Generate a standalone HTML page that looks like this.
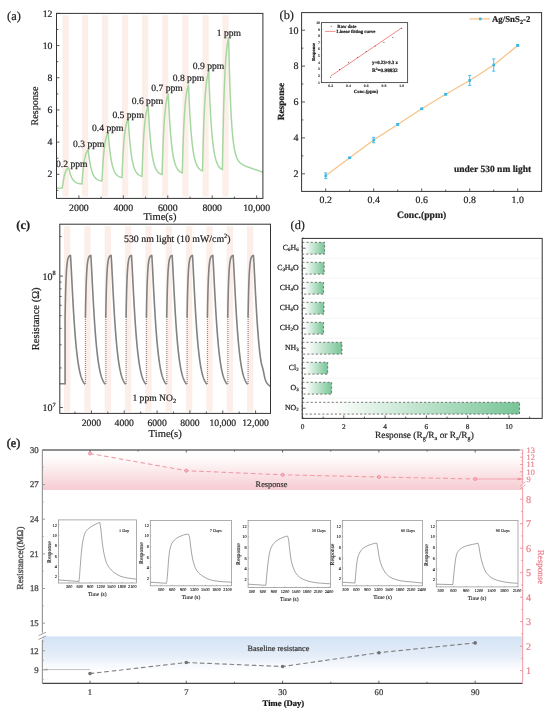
<!DOCTYPE html>
<html><head><meta charset="utf-8"><style>
html,body{margin:0;padding:0;background:#fff;}
svg{display:block;will-change:transform;}
text{font-family:"Liberation Serif",serif;text-rendering:geometricPrecision;}
</style></head><body>
<svg width="550" height="716" viewBox="0 0 550 716">
<rect width="550" height="716" fill="#fff"/>
<defs><linearGradient id="gbar" x1="0" y1="0" x2="1" y2="0"><stop offset="0" stop-color="#ffffff"/><stop offset="0.15" stop-color="#fbfdfb"/><stop offset="1" stop-color="#78c597"/></linearGradient><linearGradient id="gpink" x1="0" y1="0" x2="0" y2="1"><stop offset="0" stop-color="#f4b8bf" stop-opacity="0"/><stop offset="0.25" stop-color="#f4b8bf" stop-opacity="0.08"/><stop offset="1" stop-color="#f2b2ba" stop-opacity="0.68"/></linearGradient><linearGradient id="gblue" x1="0" y1="0" x2="0" y2="1"><stop offset="0" stop-color="#d3e3f5"/><stop offset="0.6" stop-color="#e6eef9"/><stop offset="1" stop-color="#f4f7fc" stop-opacity="0.3"/></linearGradient></defs>
<rect x="62.5" y="15.2" width="6.2" height="181.3" fill="#fcefe9"/>
<rect x="82" y="15.2" width="6.2" height="181.3" fill="#fcefe9"/>
<rect x="102" y="15.2" width="6.2" height="181.3" fill="#fcefe9"/>
<rect x="122" y="15.2" width="6.2" height="181.3" fill="#fcefe9"/>
<rect x="142" y="15.2" width="6.2" height="181.3" fill="#fcefe9"/>
<rect x="162.1" y="15.2" width="6.2" height="181.3" fill="#fcefe9"/>
<rect x="182.3" y="15.2" width="6.2" height="181.3" fill="#fcefe9"/>
<rect x="202.5" y="15.2" width="6.2" height="181.3" fill="#fcefe9"/>
<rect x="222.4" y="15.2" width="6.2" height="181.3" fill="#fcefe9"/>
<path d="M57,188.3 L62.3,188 L63.02,183.46 L63.53,179.87 L64.05,177.03 L64.57,174.78 L65.08,173.01 L65.6,171.61 L66.12,170.5 L66.63,169.62 L67.15,168.93 L67.67,168.38 L68.18,167.94 L68.7,167.6 L69.17,169.84 L69.65,171.78 L70.12,173.46 L70.6,174.91 L71.08,176.17 L71.55,177.26 L72.03,178.2 L72.5,179.02 L72.98,179.73 L73.45,180.34 L73.92,180.87 L74.4,181.33 L74.88,181.73 L75.35,182.07 L75.83,182.37 L76.3,182.63 L76.78,182.85 L77.25,183.05 L77.72,183.21 L78.2,183.36 L78.67,183.48 L79.15,183.59 L79.62,183.69 L80.1,183.77 L80.58,183.84 L81.05,183.9 L81.53,183.95 L82,184 L82.52,176.43 L83.03,170.45 L83.55,165.72 L84.07,161.97 L84.58,159.02 L85.1,156.68 L85.62,154.83 L86.13,153.37 L86.65,152.21 L87.17,151.29 L87.68,150.57 L88.2,150 L88.69,154.37 L89.19,158.13 L89.68,161.37 L90.17,164.16 L90.66,166.56 L91.16,168.63 L91.65,170.41 L92.14,171.95 L92.64,173.27 L93.13,174.41 L93.62,175.39 L94.11,176.24 L94.61,176.96 L95.1,177.59 L95.59,178.13 L96.09,178.6 L96.58,179 L97.07,179.34 L97.56,179.64 L98.06,179.89 L98.55,180.11 L99.04,180.3 L99.54,180.47 L100.03,180.61 L100.52,180.73 L101.01,180.83 L101.51,180.92 L102,181 L102.52,170.32 L103.03,161.87 L103.55,155.19 L104.07,149.9 L104.58,145.73 L105.1,142.43 L105.62,139.82 L106.13,137.75 L106.65,136.12 L107.17,134.83 L107.68,133.81 L108.2,133 L108.69,139.28 L109.19,144.7 L109.68,149.36 L110.17,153.37 L110.66,156.83 L111.16,159.81 L111.65,162.37 L112.14,164.58 L112.64,166.48 L113.13,168.12 L113.62,169.53 L114.11,170.75 L114.61,171.79 L115.1,172.69 L115.59,173.47 L116.09,174.14 L116.58,174.72 L117.07,175.21 L117.56,175.64 L118.06,176.01 L118.55,176.32 L119.04,176.6 L119.54,176.83 L120.03,177.03 L120.52,177.21 L121.01,177.36 L121.51,177.49 L122,177.6 L122.52,164.56 L123.03,154.24 L123.55,146.09 L124.07,139.64 L124.58,134.54 L125.1,130.51 L125.62,127.32 L126.13,124.8 L126.65,122.81 L127.17,121.23 L127.68,119.99 L128.2,119 L128.69,127.09 L129.19,134.05 L129.68,140.05 L130.17,145.22 L130.66,149.67 L131.16,153.5 L131.65,156.8 L132.14,159.64 L132.64,162.09 L133.13,164.2 L133.62,166.02 L134.11,167.58 L134.61,168.93 L135.1,170.09 L135.59,171.09 L136.09,171.95 L136.58,172.69 L137.07,173.33 L137.56,173.88 L138.06,174.35 L138.55,174.76 L139.04,175.11 L139.54,175.41 L140.03,175.67 L140.52,175.9 L141.01,176.09 L141.51,176.26 L142,176.4 L142.52,160.84 L143.03,148.54 L143.55,138.81 L144.07,131.12 L144.58,125.04 L145.1,120.23 L145.62,116.42 L146.13,113.42 L146.65,111.04 L147.17,109.16 L147.68,107.68 L148.2,106.5 L148.7,116.15 L149.19,124.46 L149.69,131.61 L150.19,137.75 L150.68,143.04 L151.18,147.59 L151.67,151.51 L152.17,154.88 L152.67,157.77 L153.16,160.27 L153.66,162.41 L154.16,164.26 L154.65,165.84 L155.15,167.21 L155.65,168.39 L156.14,169.4 L156.64,170.27 L157.14,171.01 L157.63,171.66 L158.13,172.21 L158.62,172.69 L159.12,173.1 L159.62,173.45 L160.11,173.75 L160.61,174.02 L161.11,174.24 L161.6,174.43 L162.1,174.6 L162.62,156.7 L163.13,142.55 L163.65,131.36 L164.17,122.52 L164.68,115.52 L165.2,109.99 L165.72,105.62 L166.23,102.16 L166.75,99.42 L167.27,97.26 L167.78,95.55 L168.3,94.2 L168.8,105.43 L169.3,115.07 L169.8,123.37 L170.3,130.49 L170.8,136.61 L171.3,141.88 L171.8,146.4 L172.3,150.29 L172.8,153.63 L173.3,156.5 L173.8,158.97 L174.3,161.09 L174.8,162.91 L175.3,164.47 L175.8,165.82 L176.3,166.98 L176.8,167.97 L177.3,168.83 L177.8,169.56 L178.3,170.19 L178.8,170.73 L179.3,171.2 L179.8,171.6 L180.3,171.94 L180.8,172.24 L181.3,172.49 L181.8,172.71 L182.3,172.9 L182.82,153.31 L183.33,137.82 L183.85,125.58 L184.37,115.89 L184.88,108.24 L185.4,102.18 L185.92,97.39 L186.43,93.61 L186.95,90.62 L187.47,88.25 L187.98,86.38 L188.5,84.9 L189,97.17 L189.5,107.71 L190,116.77 L190.5,124.56 L191,131.25 L191.5,137 L192,141.94 L192.5,146.19 L193,149.84 L193.5,152.98 L194,155.67 L194.5,157.99 L195,159.98 L195.5,161.69 L196,163.16 L196.5,164.43 L197,165.51 L197.5,166.45 L198,167.25 L198.5,167.94 L199,168.53 L199.5,169.04 L200,169.48 L200.5,169.86 L201,170.18 L201.5,170.46 L202,170.69 L202.5,170.9 L203.02,148.77 L203.53,131.28 L204.05,117.44 L204.57,106.51 L205.08,97.86 L205.6,91.02 L206.12,85.61 L206.63,81.34 L207.15,77.96 L207.67,75.28 L208.18,73.17 L208.7,71.5 L209.19,85.23 L209.68,97.08 L210.17,107.29 L210.66,116.09 L211.15,123.68 L211.64,130.22 L212.12,135.87 L212.61,140.73 L213.1,144.92 L213.59,148.54 L214.08,151.66 L214.57,154.35 L215.06,156.67 L215.55,158.66 L216.04,160.39 L216.53,161.87 L217.02,163.15 L217.51,164.26 L218,165.21 L218.49,166.03 L218.97,166.74 L219.46,167.35 L219.95,167.88 L220.44,168.33 L220.93,168.72 L221.42,169.06 L221.91,169.35 L222.4,169.6 L222.92,140.33 L223.43,117.18 L223.95,98.88 L224.47,84.41 L224.98,72.97 L225.5,63.92 L226.02,56.77 L226.53,51.11 L227.05,46.64 L227.57,43.11 L228.08,40.31 L228.6,38.1 L229.44,72.15 L230.28,96.85 L231.13,114.79 L231.97,127.85 L232.81,137.38 L233.66,144.35 L234.5,149.49 L235.34,153.29 L236.18,156.12 L237.03,158.26 L237.87,159.9 L238.71,161.17 L239.55,162.18 L240.4,162.99 L241.24,163.67 L242.08,164.25 L242.92,164.75 L243.77,165.19 L244.61,165.6 L245.45,165.98 L246.29,166.34 L247.13,166.68 L247.98,167 L248.82,167.32 L249.66,167.63 L250.5,167.94 L251.35,168.24 L252.19,168.53 L253.03,168.83 L253.88,169.12 L254.72,169.41 L255.56,169.7 L256.4,169.98 L257.25,170.27 L258.09,170.55 L258.93,170.84 L259.77,171.12 L260.62,171.4 L261.46,171.68 L262.3,171.96" fill="none" stroke="#a6d7a0" stroke-width="1.5" stroke-linejoin="round" stroke-linecap="round" />
<rect x="56.5" y="13.4" width="206.4" height="185" fill="none" stroke="#333" stroke-width="1"/>
<line x1="56.5" y1="190.39" x2="58.3" y2="190.39" stroke="#333" stroke-width="0.8" />
<line x1="56.5" y1="174.3" x2="59.5" y2="174.3" stroke="#333" stroke-width="0.8" />
<text x="52.5" y="177.4" font-size="9.8" text-anchor="end" font-weight="normal" fill="#222" stroke="#222" stroke-width="0.2" >2</text>
<line x1="56.5" y1="158.21" x2="58.3" y2="158.21" stroke="#333" stroke-width="0.8" />
<line x1="56.5" y1="142.12" x2="59.5" y2="142.12" stroke="#333" stroke-width="0.8" />
<text x="52.5" y="145.22" font-size="9.8" text-anchor="end" font-weight="normal" fill="#222" stroke="#222" stroke-width="0.2" >4</text>
<line x1="56.5" y1="126.03" x2="58.3" y2="126.03" stroke="#333" stroke-width="0.8" />
<line x1="56.5" y1="109.94" x2="59.5" y2="109.94" stroke="#333" stroke-width="0.8" />
<text x="52.5" y="113.04" font-size="9.8" text-anchor="end" font-weight="normal" fill="#222" stroke="#222" stroke-width="0.2" >6</text>
<line x1="56.5" y1="93.85" x2="58.3" y2="93.85" stroke="#333" stroke-width="0.8" />
<line x1="56.5" y1="77.76" x2="59.5" y2="77.76" stroke="#333" stroke-width="0.8" />
<text x="52.5" y="80.86" font-size="9.8" text-anchor="end" font-weight="normal" fill="#222" stroke="#222" stroke-width="0.2" >8</text>
<line x1="56.5" y1="61.67" x2="58.3" y2="61.67" stroke="#333" stroke-width="0.8" />
<line x1="56.5" y1="45.58" x2="59.5" y2="45.58" stroke="#333" stroke-width="0.8" />
<text x="52.5" y="48.68" font-size="9.8" text-anchor="end" font-weight="normal" fill="#222" stroke="#222" stroke-width="0.2" >10</text>
<line x1="56.5" y1="29.49" x2="58.3" y2="29.49" stroke="#333" stroke-width="0.8" />
<line x1="56.5" y1="13.4" x2="59.5" y2="13.4" stroke="#333" stroke-width="0.8" />
<text x="52.5" y="16.5" font-size="9.8" text-anchor="end" font-weight="normal" fill="#222" stroke="#222" stroke-width="0.2" >12</text>
<line x1="78.9" y1="198.4" x2="78.9" y2="195.4" stroke="#333" stroke-width="0.8" />
<text x="78.9" y="210.8" font-size="9.8" text-anchor="middle" font-weight="normal" fill="#222" stroke="#222" stroke-width="0.2" >2000</text>
<line x1="101.12" y1="198.4" x2="101.12" y2="196.6" stroke="#333" stroke-width="0.8" />
<line x1="123.34" y1="198.4" x2="123.34" y2="195.4" stroke="#333" stroke-width="0.8" />
<text x="123.34" y="210.8" font-size="9.8" text-anchor="middle" font-weight="normal" fill="#222" stroke="#222" stroke-width="0.2" >4000</text>
<line x1="145.56" y1="198.4" x2="145.56" y2="196.6" stroke="#333" stroke-width="0.8" />
<line x1="167.78" y1="198.4" x2="167.78" y2="195.4" stroke="#333" stroke-width="0.8" />
<text x="167.78" y="210.8" font-size="9.8" text-anchor="middle" font-weight="normal" fill="#222" stroke="#222" stroke-width="0.2" >6000</text>
<line x1="190" y1="198.4" x2="190" y2="196.6" stroke="#333" stroke-width="0.8" />
<line x1="212.22" y1="198.4" x2="212.22" y2="195.4" stroke="#333" stroke-width="0.8" />
<text x="212.22" y="210.8" font-size="9.8" text-anchor="middle" font-weight="normal" fill="#222" stroke="#222" stroke-width="0.2" >8000</text>
<line x1="234.44" y1="198.4" x2="234.44" y2="196.6" stroke="#333" stroke-width="0.8" />
<line x1="256.66" y1="198.4" x2="256.66" y2="195.4" stroke="#333" stroke-width="0.8" />
<text x="256.66" y="210.8" font-size="9.8" text-anchor="middle" font-weight="normal" fill="#222" stroke="#222" stroke-width="0.2" >10,000</text>
<text x="160" y="219.8" font-size="10.5" text-anchor="middle" font-weight="normal" fill="#222" stroke="#222" stroke-width="0.2" >Time(s)</text>
<text x="0" y="0" font-size="10.2" text-anchor="middle" font-weight="normal" fill="#222" stroke="#222" stroke-width="0.2" transform="translate(38.3,106) rotate(-90)">Response</text>
<text x="7" y="19.8" font-size="12.4" text-anchor="start" font-weight="normal" fill="#222" stroke="#222" stroke-width="0.2" >(a)</text>
<text x="56" y="167" font-size="9.6" text-anchor="start" font-weight="normal" fill="#222" stroke="#222" stroke-width="0.2" >0.2 ppm</text>
<text x="73" y="147" font-size="9.6" text-anchor="start" font-weight="normal" fill="#222" stroke="#222" stroke-width="0.2" >0.3 ppm</text>
<text x="92" y="130.6" font-size="9.6" text-anchor="start" font-weight="normal" fill="#222" stroke="#222" stroke-width="0.2" >0.4 ppm</text>
<text x="112.4" y="117.6" font-size="9.6" text-anchor="start" font-weight="normal" fill="#222" stroke="#222" stroke-width="0.2" >0.5 ppm</text>
<text x="131.7" y="103.8" font-size="9.6" text-anchor="start" font-weight="normal" fill="#222" stroke="#222" stroke-width="0.2" >0.6 ppm</text>
<text x="151.3" y="91.3" font-size="9.6" text-anchor="start" font-weight="normal" fill="#222" stroke="#222" stroke-width="0.2" >0.7 ppm</text>
<text x="172.7" y="81.2" font-size="9.6" text-anchor="start" font-weight="normal" fill="#222" stroke="#222" stroke-width="0.2" >0.8 ppm</text>
<text x="192.8" y="68.7" font-size="9.6" text-anchor="start" font-weight="normal" fill="#222" stroke="#222" stroke-width="0.2" >0.9 ppm</text>
<text x="216.7" y="36" font-size="9.6" text-anchor="start" font-weight="normal" fill="#222" stroke="#222" stroke-width="0.2" >1 ppm</text>
<rect x="301.6" y="12.6" width="240" height="178.8" fill="none" stroke="#333" stroke-width="1"/>
<line x1="301.6" y1="173.8" x2="305" y2="173.8" stroke="#333" stroke-width="0.8" />
<text x="298.6" y="177.15" font-size="10" text-anchor="end" font-weight="normal" fill="#222" stroke="#222" stroke-width="0.2" >2</text>
<line x1="301.6" y1="155.85" x2="303.4" y2="155.85" stroke="#333" stroke-width="0.8" />
<line x1="301.6" y1="137.9" x2="305" y2="137.9" stroke="#333" stroke-width="0.8" />
<text x="298.6" y="141.25" font-size="10" text-anchor="end" font-weight="normal" fill="#222" stroke="#222" stroke-width="0.2" >4</text>
<line x1="301.6" y1="119.95" x2="303.4" y2="119.95" stroke="#333" stroke-width="0.8" />
<line x1="301.6" y1="102" x2="305" y2="102" stroke="#333" stroke-width="0.8" />
<text x="298.6" y="105.35" font-size="10" text-anchor="end" font-weight="normal" fill="#222" stroke="#222" stroke-width="0.2" >6</text>
<line x1="301.6" y1="84.05" x2="303.4" y2="84.05" stroke="#333" stroke-width="0.8" />
<line x1="301.6" y1="66.1" x2="305" y2="66.1" stroke="#333" stroke-width="0.8" />
<text x="298.6" y="69.45" font-size="10" text-anchor="end" font-weight="normal" fill="#222" stroke="#222" stroke-width="0.2" >8</text>
<line x1="301.6" y1="48.15" x2="303.4" y2="48.15" stroke="#333" stroke-width="0.8" />
<line x1="301.6" y1="30.2" x2="305" y2="30.2" stroke="#333" stroke-width="0.8" />
<text x="298.6" y="33.55" font-size="10" text-anchor="end" font-weight="normal" fill="#222" stroke="#222" stroke-width="0.2" >10</text>
<line x1="325.7" y1="191.4" x2="325.7" y2="188.4" stroke="#333" stroke-width="0.8" />
<text x="325.7" y="202.8" font-size="9.8" text-anchor="middle" font-weight="normal" fill="#222" stroke="#222" stroke-width="0.2" >0.2</text>
<line x1="349.7" y1="191.4" x2="349.7" y2="189.6" stroke="#333" stroke-width="0.8" />
<line x1="373.7" y1="191.4" x2="373.7" y2="188.4" stroke="#333" stroke-width="0.8" />
<text x="373.7" y="202.8" font-size="9.8" text-anchor="middle" font-weight="normal" fill="#222" stroke="#222" stroke-width="0.2" >0.4</text>
<line x1="397.7" y1="191.4" x2="397.7" y2="189.6" stroke="#333" stroke-width="0.8" />
<line x1="421.7" y1="191.4" x2="421.7" y2="188.4" stroke="#333" stroke-width="0.8" />
<text x="421.7" y="202.8" font-size="9.8" text-anchor="middle" font-weight="normal" fill="#222" stroke="#222" stroke-width="0.2" >0.6</text>
<line x1="445.7" y1="191.4" x2="445.7" y2="189.6" stroke="#333" stroke-width="0.8" />
<line x1="469.7" y1="191.4" x2="469.7" y2="188.4" stroke="#333" stroke-width="0.8" />
<text x="469.7" y="202.8" font-size="9.8" text-anchor="middle" font-weight="normal" fill="#222" stroke="#222" stroke-width="0.2" >0.8</text>
<line x1="493.7" y1="191.4" x2="493.7" y2="189.6" stroke="#333" stroke-width="0.8" />
<line x1="517.7" y1="191.4" x2="517.7" y2="188.4" stroke="#333" stroke-width="0.8" />
<text x="517.7" y="202.8" font-size="9.8" text-anchor="middle" font-weight="normal" fill="#222" stroke="#222" stroke-width="0.2" >1.0</text>
<text x="421.6" y="218.2" font-size="9.7" text-anchor="middle" font-weight="bold" fill="#222" stroke="#222" stroke-width="0.2" >Conc.(ppm)</text>
<text x="0" y="0" font-size="9.4" text-anchor="middle" font-weight="bold" fill="#222" stroke="#222" stroke-width="0.2" transform="translate(283.9,101.6) rotate(-90)">Response</text>
<text x="279.5" y="18.9" font-size="12.4" text-anchor="start" font-weight="normal" fill="#222" stroke="#222" stroke-width="0.2" >(b)</text>
<text x="454" y="172.2" font-size="9.5" text-anchor="start" font-weight="bold" fill="#222" stroke="#222" stroke-width="0.2" >under 530 nm light</text>
<path d="M325.7,175.77 L349.7,157.82 L373.7,140.05 L397.7,124.44 L421.7,108.82 L445.7,94.28 L469.7,80.46 L493.7,65.02 L517.7,45.46" fill="none" stroke="#f7c385" stroke-width="1.25" stroke-linejoin="round" stroke-linecap="round" />
<line x1="325.7" y1="172.9" x2="325.7" y2="178.65" stroke="#3ab7e6" stroke-width="0.9" />
<line x1="324.1" y1="172.9" x2="327.3" y2="172.9" stroke="#3ab7e6" stroke-width="0.9" />
<line x1="324.1" y1="178.65" x2="327.3" y2="178.65" stroke="#3ab7e6" stroke-width="0.9" />
<rect x="324.4" y="174.47" width="2.6" height="2.6" fill="#3ab7e6"/>
<line x1="349.7" y1="157.29" x2="349.7" y2="158.36" stroke="#3ab7e6" stroke-width="0.9" />
<line x1="348.1" y1="157.29" x2="351.3" y2="157.29" stroke="#3ab7e6" stroke-width="0.9" />
<line x1="348.1" y1="158.36" x2="351.3" y2="158.36" stroke="#3ab7e6" stroke-width="0.9" />
<rect x="348.4" y="156.52" width="2.6" height="2.6" fill="#3ab7e6"/>
<line x1="373.7" y1="137.36" x2="373.7" y2="142.75" stroke="#3ab7e6" stroke-width="0.9" />
<line x1="372.1" y1="137.36" x2="375.3" y2="137.36" stroke="#3ab7e6" stroke-width="0.9" />
<line x1="372.1" y1="142.75" x2="375.3" y2="142.75" stroke="#3ab7e6" stroke-width="0.9" />
<rect x="372.4" y="138.75" width="2.6" height="2.6" fill="#3ab7e6"/>
<line x1="397.7" y1="123.54" x2="397.7" y2="125.34" stroke="#3ab7e6" stroke-width="0.9" />
<line x1="396.1" y1="123.54" x2="399.3" y2="123.54" stroke="#3ab7e6" stroke-width="0.9" />
<line x1="396.1" y1="125.34" x2="399.3" y2="125.34" stroke="#3ab7e6" stroke-width="0.9" />
<rect x="396.4" y="123.14" width="2.6" height="2.6" fill="#3ab7e6"/>
<line x1="421.7" y1="108.28" x2="421.7" y2="109.36" stroke="#3ab7e6" stroke-width="0.9" />
<line x1="420.1" y1="108.28" x2="423.3" y2="108.28" stroke="#3ab7e6" stroke-width="0.9" />
<line x1="420.1" y1="109.36" x2="423.3" y2="109.36" stroke="#3ab7e6" stroke-width="0.9" />
<rect x="420.4" y="107.52" width="2.6" height="2.6" fill="#3ab7e6"/>
<line x1="445.7" y1="93.56" x2="445.7" y2="95" stroke="#3ab7e6" stroke-width="0.9" />
<line x1="444.1" y1="93.56" x2="447.3" y2="93.56" stroke="#3ab7e6" stroke-width="0.9" />
<line x1="444.1" y1="95" x2="447.3" y2="95" stroke="#3ab7e6" stroke-width="0.9" />
<rect x="444.4" y="92.98" width="2.6" height="2.6" fill="#3ab7e6"/>
<line x1="469.7" y1="75.43" x2="469.7" y2="85.49" stroke="#3ab7e6" stroke-width="0.9" />
<line x1="468.1" y1="75.43" x2="471.3" y2="75.43" stroke="#3ab7e6" stroke-width="0.9" />
<line x1="468.1" y1="85.49" x2="471.3" y2="85.49" stroke="#3ab7e6" stroke-width="0.9" />
<rect x="468.4" y="79.16" width="2.6" height="2.6" fill="#3ab7e6"/>
<line x1="493.7" y1="58.92" x2="493.7" y2="71.13" stroke="#3ab7e6" stroke-width="0.9" />
<line x1="492.1" y1="58.92" x2="495.3" y2="58.92" stroke="#3ab7e6" stroke-width="0.9" />
<line x1="492.1" y1="71.13" x2="495.3" y2="71.13" stroke="#3ab7e6" stroke-width="0.9" />
<rect x="492.4" y="63.72" width="2.6" height="2.6" fill="#3ab7e6"/>
<line x1="517.7" y1="44.56" x2="517.7" y2="46.36" stroke="#3ab7e6" stroke-width="0.9" />
<line x1="516.1" y1="44.56" x2="519.3" y2="44.56" stroke="#3ab7e6" stroke-width="0.9" />
<line x1="516.1" y1="46.36" x2="519.3" y2="46.36" stroke="#3ab7e6" stroke-width="0.9" />
<rect x="516.4" y="44.16" width="2.6" height="2.6" fill="#3ab7e6"/>
<line x1="469.6" y1="18.9" x2="489.7" y2="18.9" stroke="#f7c385" stroke-width="1.25" />
<rect x="479" y="17.6" width="2.6" height="2.6" fill="#3ab7e6"/>
<text x="492" y="22" font-size="8.8" text-anchor="start" font-weight="bold" fill="#222" stroke="#222" stroke-width="0.2" >Ag/SnS<tspan font-size="6.2" dy="1.98">2</tspan><tspan dy="-2">-2</tspan></text>
<rect x="321.4" y="22.6" width="86.2" height="60" fill="none" stroke="#444" stroke-width="0.9"/>
<line x1="321.4" y1="82.2" x2="322.4" y2="82.2" stroke="#555" stroke-width="0.4" />
<text x="320" y="83.5" font-size="3.8" text-anchor="end" font-weight="bold" fill="#333" stroke="#333" stroke-width="0.1" >1</text>
<line x1="321.4" y1="75.58" x2="322.4" y2="75.58" stroke="#555" stroke-width="0.4" />
<text x="320" y="76.88" font-size="3.8" text-anchor="end" font-weight="bold" fill="#333" stroke="#333" stroke-width="0.1" >2</text>
<line x1="321.4" y1="68.96" x2="322.4" y2="68.96" stroke="#555" stroke-width="0.4" />
<text x="320" y="70.26" font-size="3.8" text-anchor="end" font-weight="bold" fill="#333" stroke="#333" stroke-width="0.1" >3</text>
<line x1="321.4" y1="62.34" x2="322.4" y2="62.34" stroke="#555" stroke-width="0.4" />
<text x="320" y="63.64" font-size="3.8" text-anchor="end" font-weight="bold" fill="#333" stroke="#333" stroke-width="0.1" >4</text>
<line x1="321.4" y1="55.72" x2="322.4" y2="55.72" stroke="#555" stroke-width="0.4" />
<text x="320" y="57.02" font-size="3.8" text-anchor="end" font-weight="bold" fill="#333" stroke="#333" stroke-width="0.1" >5</text>
<line x1="321.4" y1="49.1" x2="322.4" y2="49.1" stroke="#555" stroke-width="0.4" />
<text x="320" y="50.4" font-size="3.8" text-anchor="end" font-weight="bold" fill="#333" stroke="#333" stroke-width="0.1" >6</text>
<line x1="321.4" y1="42.48" x2="322.4" y2="42.48" stroke="#555" stroke-width="0.4" />
<text x="320" y="43.78" font-size="3.8" text-anchor="end" font-weight="bold" fill="#333" stroke="#333" stroke-width="0.1" >7</text>
<line x1="321.4" y1="35.86" x2="322.4" y2="35.86" stroke="#555" stroke-width="0.4" />
<text x="320" y="37.16" font-size="3.8" text-anchor="end" font-weight="bold" fill="#333" stroke="#333" stroke-width="0.1" >8</text>
<line x1="321.4" y1="29.24" x2="322.4" y2="29.24" stroke="#555" stroke-width="0.4" />
<text x="320" y="30.54" font-size="3.8" text-anchor="end" font-weight="bold" fill="#333" stroke="#333" stroke-width="0.1" >9</text>
<line x1="321.4" y1="22.62" x2="322.4" y2="22.62" stroke="#555" stroke-width="0.4" />
<text x="320" y="23.92" font-size="3.8" text-anchor="end" font-weight="bold" fill="#333" stroke="#333" stroke-width="0.1" >10</text>
<line x1="330.7" y1="82.6" x2="330.7" y2="81.6" stroke="#555" stroke-width="0.4" />
<text x="330.7" y="86.9" font-size="3.8" text-anchor="middle" font-weight="bold" fill="#333" stroke="#333" stroke-width="0.1" >0.2</text>
<line x1="348.45" y1="82.6" x2="348.45" y2="81.6" stroke="#555" stroke-width="0.4" />
<text x="348.45" y="86.9" font-size="3.8" text-anchor="middle" font-weight="bold" fill="#333" stroke="#333" stroke-width="0.1" >0.4</text>
<line x1="366.2" y1="82.6" x2="366.2" y2="81.6" stroke="#555" stroke-width="0.4" />
<text x="366.2" y="86.9" font-size="3.8" text-anchor="middle" font-weight="bold" fill="#333" stroke="#333" stroke-width="0.1" >0.6</text>
<line x1="383.95" y1="82.6" x2="383.95" y2="81.6" stroke="#555" stroke-width="0.4" />
<text x="383.95" y="86.9" font-size="3.8" text-anchor="middle" font-weight="bold" fill="#333" stroke="#333" stroke-width="0.1" >0.8</text>
<line x1="401.7" y1="82.6" x2="401.7" y2="81.6" stroke="#555" stroke-width="0.4" />
<text x="401.7" y="86.9" font-size="3.8" text-anchor="middle" font-weight="bold" fill="#333" stroke="#333" stroke-width="0.1" >1.0</text>
<text x="366" y="93.3" font-size="4.8" text-anchor="middle" font-weight="bold" fill="#222" stroke="#222" stroke-width="0.2">Conc.(ppm)</text>
<text x="0" y="0" font-size="4.5" text-anchor="middle" font-weight="bold" fill="#222" stroke="#222" stroke-width="0.2" transform="translate(315.2,52) rotate(-90)">Response</text>
<line x1="330.7" y1="76.11" x2="401.7" y2="27.92" stroke="#f06a6a" stroke-width="0.8" />
<circle cx="330.7" cy="77.23" r="0.5" fill="#333"/>
<circle cx="339.57" cy="69.62" r="0.5" fill="#333"/>
<circle cx="348.45" cy="62.34" r="0.5" fill="#333"/>
<circle cx="357.32" cy="57.38" r="0.5" fill="#333"/>
<circle cx="366.2" cy="51.42" r="0.5" fill="#333"/>
<circle cx="375.07" cy="46.12" r="0.5" fill="#333"/>
<circle cx="383.95" cy="42.48" r="0.5" fill="#333"/>
<circle cx="392.82" cy="37.18" r="0.5" fill="#333"/>
<circle cx="401.7" cy="28.58" r="0.5" fill="#333"/>
<circle cx="331.2" cy="26.3" r="0.5" fill="#333"/>
<text x="337.3" y="27.9" font-size="4.75" text-anchor="start" font-weight="bold" fill="#222" stroke="#222" stroke-width="0.2">Raw date</text>
<line x1="325" y1="31.4" x2="335.5" y2="31.4" stroke="#f06a6a" stroke-width="0.75" />
<text x="336.6" y="33" font-size="4.65" text-anchor="start" font-weight="bold" fill="#222" stroke="#222" stroke-width="0.2">Linear fitting curve</text>
<text x="372" y="64.3" font-size="4.8" text-anchor="start" font-weight="bold" fill="#222" stroke="#222" stroke-width="0.2">y=0.23+9.3 x</text>
<text x="372" y="71.9" font-size="5.3" text-anchor="start" font-weight="bold" fill="#222" stroke="#222" stroke-width="0.2">R<tspan font-size="3.4" dy="-1.7">2</tspan><tspan dy="1.7">=0.98832</tspan></text>
<rect x="64" y="226.3" width="6.3" height="185.4" fill="#fcefe9"/>
<rect x="84.33" y="226.3" width="6.3" height="185.4" fill="#fcefe9"/>
<rect x="104.66" y="226.3" width="6.3" height="185.4" fill="#fcefe9"/>
<rect x="124.99" y="226.3" width="6.3" height="185.4" fill="#fcefe9"/>
<rect x="145.32" y="226.3" width="6.3" height="185.4" fill="#fcefe9"/>
<rect x="165.65" y="226.3" width="6.3" height="185.4" fill="#fcefe9"/>
<rect x="185.98" y="226.3" width="6.3" height="185.4" fill="#fcefe9"/>
<rect x="206.31" y="226.3" width="6.3" height="185.4" fill="#fcefe9"/>
<rect x="226.64" y="226.3" width="6.3" height="185.4" fill="#fcefe9"/>
<rect x="246.97" y="226.3" width="6.3" height="185.4" fill="#fcefe9"/>
<path d="M60.3,383.8 L64.8,383.8" fill="none" stroke="#828282" stroke-width="1.6" stroke-linejoin="round" stroke-linecap="round" />
<path d="M65.1,383.8 L65.1,317 L65.28,306.81 L65.46,298.29 L65.64,291.18 L65.82,285.24 L66,280.28 L66.18,276.13 L66.36,272.67 L66.54,269.78 L66.72,267.37 L66.9,265.35 L67.08,263.66 L67.26,262.26 L67.44,261.08 L67.62,260.1 L67.8,259.28 L67.98,258.59 L68.16,258.02 L68.34,257.54 L68.52,257.14 L68.7,256.81 L68.88,256.53 L69.06,256.3 L69.24,256.11 L69.42,255.94 L69.6,255.81 L69.78,255.69 L69.96,255.6 L70.14,255.52 L70.32,255.46 L70.5,255.4 L70.85,260.76 L71.2,267.39 L71.55,274.34 L71.9,281.34 L72.25,288.23 L72.6,294.94 L72.96,301.4 L73.31,307.58 L73.66,313.46 L74.01,319.02 L74.36,324.28 L74.71,329.21 L75.06,333.84 L75.41,338.17 L75.76,342.21 L76.11,345.97 L76.46,349.46 L76.81,352.69 L77.16,355.69 L77.52,358.46 L77.87,361.02 L78.22,363.38 L78.57,365.55 L78.92,367.54 L79.27,369.38 L79.62,371.06 L79.97,372.6 L80.32,374.01 L80.67,375.3 L81.02,376.48 L81.37,377.56 L81.72,378.54 L82.07,379.43 L82.43,380.25 L82.78,380.99 L83.13,381.67 L83.48,382.28 L83.83,382.84 L84.18,383.34 L84.53,383.8" fill="none" stroke="#828282" stroke-width="1.6" stroke-linejoin="round" stroke-linecap="round" />
<path d="M85.43,317 L85.61,306.81 L85.79,298.29 L85.97,291.18 L86.15,285.24 L86.33,280.28 L86.51,276.13 L86.69,272.67 L86.87,269.78 L87.05,267.37 L87.23,265.35 L87.41,263.66 L87.59,262.26 L87.77,261.08 L87.95,260.1 L88.13,259.28 L88.31,258.59 L88.49,258.02 L88.67,257.54 L88.85,257.14 L89.03,256.81 L89.21,256.53 L89.39,256.3 L89.57,256.11 L89.75,255.94 L89.93,255.81 L90.11,255.69 L90.29,255.6 L90.47,255.52 L90.65,255.46 L90.83,255.4 L91.18,260.76 L91.53,267.39 L91.88,274.34 L92.23,281.34 L92.58,288.23 L92.93,294.94 L93.29,301.4 L93.64,307.58 L93.99,313.46 L94.34,319.02 L94.69,324.28 L95.04,329.21 L95.39,333.84 L95.74,338.17 L96.09,342.21 L96.44,345.97 L96.79,349.46 L97.14,352.69 L97.49,355.69 L97.84,358.46 L98.2,361.02 L98.55,363.38 L98.9,365.55 L99.25,367.54 L99.6,369.38 L99.95,371.06 L100.3,372.6 L100.65,374.01 L101,375.3 L101.35,376.48 L101.7,377.56 L102.05,378.54 L102.4,379.43 L102.76,380.25 L103.11,380.99 L103.46,381.67 L103.81,382.28 L104.16,382.84 L104.51,383.34 L104.86,383.8" fill="none" stroke="#828282" stroke-width="1.6" stroke-linejoin="round" stroke-linecap="round" />
<path d="M105.76,317 L105.94,306.81 L106.12,298.29 L106.3,291.18 L106.48,285.24 L106.66,280.28 L106.84,276.13 L107.02,272.67 L107.2,269.78 L107.38,267.37 L107.56,265.35 L107.74,263.66 L107.92,262.26 L108.1,261.08 L108.28,260.1 L108.46,259.28 L108.64,258.59 L108.82,258.02 L109,257.54 L109.18,257.14 L109.36,256.81 L109.54,256.53 L109.72,256.3 L109.9,256.11 L110.08,255.94 L110.26,255.81 L110.44,255.69 L110.62,255.6 L110.8,255.52 L110.98,255.46 L111.16,255.4 L111.51,260.76 L111.86,267.39 L112.21,274.34 L112.56,281.34 L112.91,288.23 L113.26,294.94 L113.62,301.4 L113.97,307.58 L114.32,313.46 L114.67,319.02 L115.02,324.28 L115.37,329.21 L115.72,333.84 L116.07,338.17 L116.42,342.21 L116.77,345.97 L117.12,349.46 L117.47,352.69 L117.82,355.69 L118.17,358.46 L118.53,361.02 L118.88,363.38 L119.23,365.55 L119.58,367.54 L119.93,369.38 L120.28,371.06 L120.63,372.6 L120.98,374.01 L121.33,375.3 L121.68,376.48 L122.03,377.56 L122.38,378.54 L122.73,379.43 L123.09,380.25 L123.44,380.99 L123.79,381.67 L124.14,382.28 L124.49,382.84 L124.84,383.34 L125.19,383.8" fill="none" stroke="#828282" stroke-width="1.6" stroke-linejoin="round" stroke-linecap="round" />
<path d="M126.09,317 L126.27,306.81 L126.45,298.29 L126.63,291.18 L126.81,285.24 L126.99,280.28 L127.17,276.13 L127.35,272.67 L127.53,269.78 L127.71,267.37 L127.89,265.35 L128.07,263.66 L128.25,262.26 L128.43,261.08 L128.61,260.1 L128.79,259.28 L128.97,258.59 L129.15,258.02 L129.33,257.54 L129.51,257.14 L129.69,256.81 L129.87,256.53 L130.05,256.3 L130.23,256.11 L130.41,255.94 L130.59,255.81 L130.77,255.69 L130.95,255.6 L131.13,255.52 L131.31,255.46 L131.49,255.4 L131.84,260.76 L132.19,267.39 L132.54,274.34 L132.89,281.34 L133.24,288.23 L133.59,294.94 L133.95,301.4 L134.3,307.58 L134.65,313.46 L135,319.02 L135.35,324.28 L135.7,329.21 L136.05,333.84 L136.4,338.17 L136.75,342.21 L137.1,345.97 L137.45,349.46 L137.8,352.69 L138.15,355.69 L138.5,358.46 L138.86,361.02 L139.21,363.38 L139.56,365.55 L139.91,367.54 L140.26,369.38 L140.61,371.06 L140.96,372.6 L141.31,374.01 L141.66,375.3 L142.01,376.48 L142.36,377.56 L142.71,378.54 L143.06,379.43 L143.42,380.25 L143.77,380.99 L144.12,381.67 L144.47,382.28 L144.82,382.84 L145.17,383.34 L145.52,383.8" fill="none" stroke="#828282" stroke-width="1.6" stroke-linejoin="round" stroke-linecap="round" />
<path d="M146.42,317 L146.6,306.81 L146.78,298.29 L146.96,291.18 L147.14,285.24 L147.32,280.28 L147.5,276.13 L147.68,272.67 L147.86,269.78 L148.04,267.37 L148.22,265.35 L148.4,263.66 L148.58,262.26 L148.76,261.08 L148.94,260.1 L149.12,259.28 L149.3,258.59 L149.48,258.02 L149.66,257.54 L149.84,257.14 L150.02,256.81 L150.2,256.53 L150.38,256.3 L150.56,256.11 L150.74,255.94 L150.92,255.81 L151.1,255.69 L151.28,255.6 L151.46,255.52 L151.64,255.46 L151.82,255.4 L152.17,260.76 L152.52,267.39 L152.87,274.34 L153.22,281.34 L153.57,288.23 L153.92,294.94 L154.28,301.4 L154.63,307.58 L154.98,313.46 L155.33,319.02 L155.68,324.28 L156.03,329.21 L156.38,333.84 L156.73,338.17 L157.08,342.21 L157.43,345.97 L157.78,349.46 L158.13,352.69 L158.48,355.69 L158.83,358.46 L159.19,361.02 L159.54,363.38 L159.89,365.55 L160.24,367.54 L160.59,369.38 L160.94,371.06 L161.29,372.6 L161.64,374.01 L161.99,375.3 L162.34,376.48 L162.69,377.56 L163.04,378.54 L163.39,379.43 L163.75,380.25 L164.1,380.99 L164.45,381.67 L164.8,382.28 L165.15,382.84 L165.5,383.34 L165.85,383.8" fill="none" stroke="#828282" stroke-width="1.6" stroke-linejoin="round" stroke-linecap="round" />
<path d="M166.75,317 L166.93,306.81 L167.11,298.29 L167.29,291.18 L167.47,285.24 L167.65,280.28 L167.83,276.13 L168.01,272.67 L168.19,269.78 L168.37,267.37 L168.55,265.35 L168.73,263.66 L168.91,262.26 L169.09,261.08 L169.27,260.1 L169.45,259.28 L169.63,258.59 L169.81,258.02 L169.99,257.54 L170.17,257.14 L170.35,256.81 L170.53,256.53 L170.71,256.3 L170.89,256.11 L171.07,255.94 L171.25,255.81 L171.43,255.69 L171.61,255.6 L171.79,255.52 L171.97,255.46 L172.15,255.4 L172.5,260.76 L172.85,267.39 L173.2,274.34 L173.55,281.34 L173.9,288.23 L174.25,294.94 L174.61,301.4 L174.96,307.58 L175.31,313.46 L175.66,319.02 L176.01,324.28 L176.36,329.21 L176.71,333.84 L177.06,338.17 L177.41,342.21 L177.76,345.97 L178.11,349.46 L178.46,352.69 L178.81,355.69 L179.16,358.46 L179.52,361.02 L179.87,363.38 L180.22,365.55 L180.57,367.54 L180.92,369.38 L181.27,371.06 L181.62,372.6 L181.97,374.01 L182.32,375.3 L182.67,376.48 L183.02,377.56 L183.37,378.54 L183.72,379.43 L184.08,380.25 L184.43,380.99 L184.78,381.67 L185.13,382.28 L185.48,382.84 L185.83,383.34 L186.18,383.8" fill="none" stroke="#828282" stroke-width="1.6" stroke-linejoin="round" stroke-linecap="round" />
<path d="M187.08,317 L187.26,306.81 L187.44,298.29 L187.62,291.18 L187.8,285.24 L187.98,280.28 L188.16,276.13 L188.34,272.67 L188.52,269.78 L188.7,267.37 L188.88,265.35 L189.06,263.66 L189.24,262.26 L189.42,261.08 L189.6,260.1 L189.78,259.28 L189.96,258.59 L190.14,258.02 L190.32,257.54 L190.5,257.14 L190.68,256.81 L190.86,256.53 L191.04,256.3 L191.22,256.11 L191.4,255.94 L191.58,255.81 L191.76,255.69 L191.94,255.6 L192.12,255.52 L192.3,255.46 L192.48,255.4 L192.83,260.76 L193.18,267.39 L193.53,274.34 L193.88,281.34 L194.23,288.23 L194.58,294.94 L194.94,301.4 L195.29,307.58 L195.64,313.46 L195.99,319.02 L196.34,324.28 L196.69,329.21 L197.04,333.84 L197.39,338.17 L197.74,342.21 L198.09,345.97 L198.44,349.46 L198.79,352.69 L199.14,355.69 L199.5,358.46 L199.85,361.02 L200.2,363.38 L200.55,365.55 L200.9,367.54 L201.25,369.38 L201.6,371.06 L201.95,372.6 L202.3,374.01 L202.65,375.3 L203,376.48 L203.35,377.56 L203.7,378.54 L204.05,379.43 L204.41,380.25 L204.76,380.99 L205.11,381.67 L205.46,382.28 L205.81,382.84 L206.16,383.34 L206.51,383.8" fill="none" stroke="#828282" stroke-width="1.6" stroke-linejoin="round" stroke-linecap="round" />
<path d="M207.41,317 L207.59,306.81 L207.77,298.29 L207.95,291.18 L208.13,285.24 L208.31,280.28 L208.49,276.13 L208.67,272.67 L208.85,269.78 L209.03,267.37 L209.21,265.35 L209.39,263.66 L209.57,262.26 L209.75,261.08 L209.93,260.1 L210.11,259.28 L210.29,258.59 L210.47,258.02 L210.65,257.54 L210.83,257.14 L211.01,256.81 L211.19,256.53 L211.37,256.3 L211.55,256.11 L211.73,255.94 L211.91,255.81 L212.09,255.69 L212.27,255.6 L212.45,255.52 L212.63,255.46 L212.81,255.4 L213.16,260.76 L213.51,267.39 L213.86,274.34 L214.21,281.34 L214.56,288.23 L214.91,294.94 L215.27,301.4 L215.62,307.58 L215.97,313.46 L216.32,319.02 L216.67,324.28 L217.02,329.21 L217.37,333.84 L217.72,338.17 L218.07,342.21 L218.42,345.97 L218.77,349.46 L219.12,352.69 L219.47,355.69 L219.82,358.46 L220.18,361.02 L220.53,363.38 L220.88,365.55 L221.23,367.54 L221.58,369.38 L221.93,371.06 L222.28,372.6 L222.63,374.01 L222.98,375.3 L223.33,376.48 L223.68,377.56 L224.03,378.54 L224.38,379.43 L224.74,380.25 L225.09,380.99 L225.44,381.67 L225.79,382.28 L226.14,382.84 L226.49,383.34 L226.84,383.8" fill="none" stroke="#828282" stroke-width="1.6" stroke-linejoin="round" stroke-linecap="round" />
<path d="M227.74,317 L227.92,306.81 L228.1,298.29 L228.28,291.18 L228.46,285.24 L228.64,280.28 L228.82,276.13 L229,272.67 L229.18,269.78 L229.36,267.37 L229.54,265.35 L229.72,263.66 L229.9,262.26 L230.08,261.08 L230.26,260.1 L230.44,259.28 L230.62,258.59 L230.8,258.02 L230.98,257.54 L231.16,257.14 L231.34,256.81 L231.52,256.53 L231.7,256.3 L231.88,256.11 L232.06,255.94 L232.24,255.81 L232.42,255.69 L232.6,255.6 L232.78,255.52 L232.96,255.46 L233.14,255.4 L233.49,260.76 L233.84,267.39 L234.19,274.34 L234.54,281.34 L234.89,288.23 L235.24,294.94 L235.6,301.4 L235.95,307.58 L236.3,313.46 L236.65,319.02 L237,324.28 L237.35,329.21 L237.7,333.84 L238.05,338.17 L238.4,342.21 L238.75,345.97 L239.1,349.46 L239.45,352.69 L239.8,355.69 L240.15,358.46 L240.51,361.02 L240.86,363.38 L241.21,365.55 L241.56,367.54 L241.91,369.38 L242.26,371.06 L242.61,372.6 L242.96,374.01 L243.31,375.3 L243.66,376.48 L244.01,377.56 L244.36,378.54 L244.71,379.43 L245.07,380.25 L245.42,380.99 L245.77,381.67 L246.12,382.28 L246.47,382.84 L246.82,383.34 L247.17,383.8" fill="none" stroke="#828282" stroke-width="1.6" stroke-linejoin="round" stroke-linecap="round" />
<path d="M248.07,317 L248.25,306.81 L248.43,298.29 L248.61,291.18 L248.79,285.24 L248.97,280.28 L249.15,276.13 L249.33,272.67 L249.51,269.78 L249.69,267.37 L249.87,265.35 L250.05,263.66 L250.23,262.26 L250.41,261.08 L250.59,260.1 L250.77,259.28 L250.95,258.59 L251.13,258.02 L251.31,257.54 L251.49,257.14 L251.67,256.81 L251.85,256.53 L252.03,256.3 L252.21,256.11 L252.39,255.94 L252.57,255.81 L252.75,255.69 L252.93,255.6 L253.11,255.52 L253.29,255.46 L253.47,255.4 L253.88,261.89 L254.3,269.84 L254.71,278.08 L255.12,286.27 L255.54,294.22 L255.95,301.83 L256.36,309.06 L256.78,315.86 L257.19,322.23 L257.6,328.16 L258.02,333.66 L258.43,338.74 L258.84,343.42 L259.26,347.71 L259.67,351.61 L260.08,355.13 L260.5,358.22 L260.91,360.86 L261.32,363.02 L261.74,364.76 L262.15,366.23 L262.56,367.65 L262.97,369.24 L263.39,371.11 L263.8,373.18 L264.21,375.26 L264.63,377.16 L265.04,378.77 L265.45,380.07 L265.87,381.1 L266.28,381.95 L266.69,382.66 L267.11,383.28 L267.52,383.82 L267.93,384.31 L268.35,384.74 L268.76,385.12 L269.17,385.46 L269.59,385.76 L270,386.02" fill="none" stroke="#828282" stroke-width="1.6" stroke-linejoin="round" stroke-linecap="round" />
<line x1="85.53" y1="383.8" x2="85.53" y2="317" stroke="#6e6e6e" stroke-width="1.15" stroke-dasharray="0.9 1.1"/>
<line x1="105.86" y1="383.8" x2="105.86" y2="317" stroke="#6e6e6e" stroke-width="1.15" stroke-dasharray="0.9 1.1"/>
<line x1="126.19" y1="383.8" x2="126.19" y2="317" stroke="#6e6e6e" stroke-width="1.15" stroke-dasharray="0.9 1.1"/>
<line x1="146.52" y1="383.8" x2="146.52" y2="317" stroke="#6e6e6e" stroke-width="1.15" stroke-dasharray="0.9 1.1"/>
<line x1="166.85" y1="383.8" x2="166.85" y2="317" stroke="#6e6e6e" stroke-width="1.15" stroke-dasharray="0.9 1.1"/>
<line x1="187.18" y1="383.8" x2="187.18" y2="317" stroke="#6e6e6e" stroke-width="1.15" stroke-dasharray="0.9 1.1"/>
<line x1="207.51" y1="383.8" x2="207.51" y2="317" stroke="#6e6e6e" stroke-width="1.15" stroke-dasharray="0.9 1.1"/>
<line x1="227.84" y1="383.8" x2="227.84" y2="317" stroke="#6e6e6e" stroke-width="1.15" stroke-dasharray="0.9 1.1"/>
<line x1="248.17" y1="383.8" x2="248.17" y2="317" stroke="#6e6e6e" stroke-width="1.15" stroke-dasharray="0.9 1.1"/>
<rect x="59.8" y="224.2" width="210.7" height="189.2" fill="none" stroke="#333" stroke-width="1"/>
<line x1="59.8" y1="407.5" x2="63" y2="407.5" stroke="#333" stroke-width="0.8" />
<text x="55.6" y="411" font-size="10" text-anchor="end" font-weight="normal" fill="#222" stroke="#222" stroke-width="0.2" >10<tspan font-size="6.3" dy="-4.2">7</tspan></text>
<line x1="59.8" y1="367.94" x2="61.6" y2="367.94" stroke="#333" stroke-width="0.8" />
<line x1="59.8" y1="344.81" x2="61.6" y2="344.81" stroke="#333" stroke-width="0.8" />
<line x1="59.8" y1="328.39" x2="61.6" y2="328.39" stroke="#333" stroke-width="0.8" />
<line x1="59.8" y1="315.66" x2="61.6" y2="315.66" stroke="#333" stroke-width="0.8" />
<line x1="59.8" y1="305.25" x2="61.6" y2="305.25" stroke="#333" stroke-width="0.8" />
<line x1="59.8" y1="296.45" x2="61.6" y2="296.45" stroke="#333" stroke-width="0.8" />
<line x1="59.8" y1="288.83" x2="61.6" y2="288.83" stroke="#333" stroke-width="0.8" />
<line x1="59.8" y1="282.11" x2="61.6" y2="282.11" stroke="#333" stroke-width="0.8" />
<line x1="59.8" y1="276.1" x2="63" y2="276.1" stroke="#333" stroke-width="0.8" />
<text x="55.6" y="279.6" font-size="10" text-anchor="end" font-weight="normal" fill="#222" stroke="#222" stroke-width="0.2" >10<tspan font-size="6.3" dy="-4.2">8</tspan></text>
<line x1="59.8" y1="236.54" x2="61.6" y2="236.54" stroke="#333" stroke-width="0.8" />
<line x1="74.98" y1="413.4" x2="74.98" y2="411.6" stroke="#333" stroke-width="0.8" />
<line x1="91.4" y1="413.4" x2="91.4" y2="410.4" stroke="#333" stroke-width="0.8" />
<text x="91.4" y="426" font-size="9.7" text-anchor="middle" font-weight="normal" fill="#222" stroke="#222" stroke-width="0.2" >2000</text>
<line x1="107.82" y1="413.4" x2="107.82" y2="411.6" stroke="#333" stroke-width="0.8" />
<line x1="124.24" y1="413.4" x2="124.24" y2="410.4" stroke="#333" stroke-width="0.8" />
<text x="124.24" y="426" font-size="9.7" text-anchor="middle" font-weight="normal" fill="#222" stroke="#222" stroke-width="0.2" >4000</text>
<line x1="140.66" y1="413.4" x2="140.66" y2="411.6" stroke="#333" stroke-width="0.8" />
<line x1="157.08" y1="413.4" x2="157.08" y2="410.4" stroke="#333" stroke-width="0.8" />
<text x="157.08" y="426" font-size="9.7" text-anchor="middle" font-weight="normal" fill="#222" stroke="#222" stroke-width="0.2" >6000</text>
<line x1="173.5" y1="413.4" x2="173.5" y2="411.6" stroke="#333" stroke-width="0.8" />
<line x1="189.92" y1="413.4" x2="189.92" y2="410.4" stroke="#333" stroke-width="0.8" />
<text x="189.92" y="426" font-size="9.7" text-anchor="middle" font-weight="normal" fill="#222" stroke="#222" stroke-width="0.2" >8000</text>
<line x1="206.34" y1="413.4" x2="206.34" y2="411.6" stroke="#333" stroke-width="0.8" />
<line x1="222.76" y1="413.4" x2="222.76" y2="410.4" stroke="#333" stroke-width="0.8" />
<text x="222.76" y="426" font-size="9.7" text-anchor="middle" font-weight="normal" fill="#222" stroke="#222" stroke-width="0.2" >10,000</text>
<line x1="239.18" y1="413.4" x2="239.18" y2="411.6" stroke="#333" stroke-width="0.8" />
<line x1="255.6" y1="413.4" x2="255.6" y2="410.4" stroke="#333" stroke-width="0.8" />
<text x="255.6" y="426" font-size="9.7" text-anchor="middle" font-weight="normal" fill="#222" stroke="#222" stroke-width="0.2" >12,000</text>
<text x="165.2" y="437.1" font-size="10.6" text-anchor="middle" font-weight="normal" fill="#222" stroke="#222" stroke-width="0.2" >Time(s)</text>
<text x="0" y="0" font-size="10.6" text-anchor="middle" font-weight="normal" fill="#222" stroke="#222" stroke-width="0.2" transform="translate(38.8,318.8) rotate(-90)">Resistance (&#937;)</text>
<text x="16.3" y="229.4" font-size="12.4" text-anchor="start" font-weight="bold" fill="#222" stroke="#222" stroke-width="0.2" >(c)</text>
<text x="124" y="241.7" font-size="9.85" text-anchor="start" font-weight="normal" fill="#222" stroke="#222" stroke-width="0.2" >530 nm light (10 mW/cm<tspan font-size="6.3" dy="-3.9">2</tspan><tspan dy="3.9">)</tspan></text>
<text x="132.4" y="401.4" font-size="9.6" text-anchor="start" font-weight="normal" fill="#222" stroke="#222" stroke-width="0.2" >1 ppm NO<tspan font-size="6.3" dy="2.02">2</tspan></text>
<line x1="302.2" y1="258.2" x2="542.2" y2="258.2" stroke="#ededed" stroke-width="0.6" />
<line x1="302.2" y1="278.2" x2="542.2" y2="278.2" stroke="#ededed" stroke-width="0.6" />
<line x1="302.2" y1="298.2" x2="542.2" y2="298.2" stroke="#ededed" stroke-width="0.6" />
<line x1="302.2" y1="318.2" x2="542.2" y2="318.2" stroke="#ededed" stroke-width="0.6" />
<line x1="302.2" y1="338.2" x2="542.2" y2="338.2" stroke="#ededed" stroke-width="0.6" />
<line x1="302.2" y1="358.2" x2="542.2" y2="358.2" stroke="#ededed" stroke-width="0.6" />
<line x1="302.2" y1="378.2" x2="542.2" y2="378.2" stroke="#ededed" stroke-width="0.6" />
<line x1="302.2" y1="398.2" x2="542.2" y2="398.2" stroke="#ededed" stroke-width="0.6" />
<rect x="302.2" y="242.3" width="22.4" height="11.8" fill="url(#gbar)" stroke="#595959" stroke-width="0.8" stroke-dasharray="2.2 2"/>
<line x1="302.2" y1="248.2" x2="305.6" y2="248.2" stroke="#333" stroke-width="0.8" />
<line x1="302.2" y1="258.2" x2="304" y2="258.2" stroke="#333" stroke-width="0.8" />
<line x1="302.2" y1="238.2" x2="304" y2="238.2" stroke="#333" stroke-width="0.8" />
<text x="298.6" y="249.9" font-size="7.8" text-anchor="end" font-weight="normal" fill="#222" stroke="#222" stroke-width="0.2" >C<tspan font-size="4.9" dy="1.57">6</tspan><tspan dy="-1.57">H</tspan><tspan font-size="4.9" dy="1.57">6</tspan></text>
<rect x="302.2" y="262.3" width="21.98" height="11.8" fill="url(#gbar)" stroke="#595959" stroke-width="0.8" stroke-dasharray="2.2 2"/>
<line x1="302.2" y1="268.2" x2="305.6" y2="268.2" stroke="#333" stroke-width="0.8" />
<line x1="302.2" y1="278.2" x2="304" y2="278.2" stroke="#333" stroke-width="0.8" />
<line x1="302.2" y1="258.2" x2="304" y2="258.2" stroke="#333" stroke-width="0.8" />
<text x="298.6" y="269.9" font-size="7.8" text-anchor="end" font-weight="normal" fill="#222" stroke="#222" stroke-width="0.2" >C<tspan font-size="4.9" dy="1.57">3</tspan><tspan dy="-1.57">H</tspan><tspan font-size="4.9" dy="1.57">6</tspan><tspan dy="-1.57">O</tspan></text>
<rect x="302.2" y="282.3" width="21.36" height="11.8" fill="url(#gbar)" stroke="#595959" stroke-width="0.8" stroke-dasharray="2.2 2"/>
<line x1="302.2" y1="288.2" x2="305.6" y2="288.2" stroke="#333" stroke-width="0.8" />
<line x1="302.2" y1="298.2" x2="304" y2="298.2" stroke="#333" stroke-width="0.8" />
<line x1="302.2" y1="278.2" x2="304" y2="278.2" stroke="#333" stroke-width="0.8" />
<text x="298.6" y="289.9" font-size="7.8" text-anchor="end" font-weight="normal" fill="#222" stroke="#222" stroke-width="0.2" >CH<tspan font-size="4.9" dy="1.57">4</tspan><tspan dy="-1.57">O</tspan></text>
<rect x="302.2" y="302.3" width="21.78" height="11.8" fill="url(#gbar)" stroke="#595959" stroke-width="0.8" stroke-dasharray="2.2 2"/>
<line x1="302.2" y1="308.2" x2="305.6" y2="308.2" stroke="#333" stroke-width="0.8" />
<line x1="302.2" y1="318.2" x2="304" y2="318.2" stroke="#333" stroke-width="0.8" />
<line x1="302.2" y1="298.2" x2="304" y2="298.2" stroke="#333" stroke-width="0.8" />
<text x="298.6" y="309.9" font-size="7.8" text-anchor="end" font-weight="normal" fill="#222" stroke="#222" stroke-width="0.2" >CH<tspan font-size="4.9" dy="1.57">6</tspan><tspan dy="-1.57">O</tspan></text>
<rect x="302.2" y="322.3" width="21.36" height="11.8" fill="url(#gbar)" stroke="#595959" stroke-width="0.8" stroke-dasharray="2.2 2"/>
<line x1="302.2" y1="328.2" x2="305.6" y2="328.2" stroke="#333" stroke-width="0.8" />
<line x1="302.2" y1="338.2" x2="304" y2="338.2" stroke="#333" stroke-width="0.8" />
<line x1="302.2" y1="318.2" x2="304" y2="318.2" stroke="#333" stroke-width="0.8" />
<text x="298.6" y="329.9" font-size="7.8" text-anchor="end" font-weight="normal" fill="#222" stroke="#222" stroke-width="0.2" >CH<tspan font-size="4.9" dy="1.57">2</tspan><tspan dy="-1.57">O</tspan></text>
<rect x="302.2" y="342.3" width="39.74" height="11.8" fill="url(#gbar)" stroke="#595959" stroke-width="0.8" stroke-dasharray="2.2 2"/>
<line x1="302.2" y1="348.2" x2="305.6" y2="348.2" stroke="#333" stroke-width="0.8" />
<line x1="302.2" y1="358.2" x2="304" y2="358.2" stroke="#333" stroke-width="0.8" />
<line x1="302.2" y1="338.2" x2="304" y2="338.2" stroke="#333" stroke-width="0.8" />
<text x="298.6" y="349.9" font-size="7.8" text-anchor="end" font-weight="normal" fill="#222" stroke="#222" stroke-width="0.2" >NH<tspan font-size="4.9" dy="1.57">3</tspan></text>
<rect x="302.2" y="362.3" width="25.49" height="11.8" fill="url(#gbar)" stroke="#595959" stroke-width="0.8" stroke-dasharray="2.2 2"/>
<line x1="302.2" y1="368.2" x2="305.6" y2="368.2" stroke="#333" stroke-width="0.8" />
<line x1="302.2" y1="378.2" x2="304" y2="378.2" stroke="#333" stroke-width="0.8" />
<line x1="302.2" y1="358.2" x2="304" y2="358.2" stroke="#333" stroke-width="0.8" />
<text x="298.6" y="369.9" font-size="7.8" text-anchor="end" font-weight="normal" fill="#222" stroke="#222" stroke-width="0.2" >Cl<tspan font-size="4.9" dy="1.57">2</tspan></text>
<rect x="302.2" y="382.3" width="29.42" height="11.8" fill="url(#gbar)" stroke="#595959" stroke-width="0.8" stroke-dasharray="2.2 2"/>
<line x1="302.2" y1="388.2" x2="305.6" y2="388.2" stroke="#333" stroke-width="0.8" />
<line x1="302.2" y1="398.2" x2="304" y2="398.2" stroke="#333" stroke-width="0.8" />
<line x1="302.2" y1="378.2" x2="304" y2="378.2" stroke="#333" stroke-width="0.8" />
<text x="298.6" y="389.9" font-size="7.8" text-anchor="end" font-weight="normal" fill="#222" stroke="#222" stroke-width="0.2" >O<tspan font-size="4.9" dy="1.57">3</tspan></text>
<rect x="302.2" y="402.3" width="217.33" height="11.8" fill="url(#gbar)" stroke="#595959" stroke-width="0.8" stroke-dasharray="2.2 2"/>
<line x1="302.2" y1="408.2" x2="305.6" y2="408.2" stroke="#333" stroke-width="0.8" />
<line x1="302.2" y1="418.2" x2="304" y2="418.2" stroke="#333" stroke-width="0.8" />
<line x1="302.2" y1="398.2" x2="304" y2="398.2" stroke="#333" stroke-width="0.8" />
<text x="298.6" y="409.9" font-size="7.8" text-anchor="end" font-weight="normal" fill="#222" stroke="#222" stroke-width="0.2" >NO<tspan font-size="4.9" dy="1.57">2</tspan></text>
<rect x="302.2" y="238.4" width="240" height="180" fill="none" stroke="#333" stroke-width="1"/>
<line x1="302.5" y1="418.4" x2="302.5" y2="415.4" stroke="#333" stroke-width="0.8" />
<text x="302.5" y="428.5" font-size="7.3" text-anchor="middle" font-weight="normal" fill="#222" stroke="#222" stroke-width="0.2" >0</text>
<line x1="323.15" y1="418.4" x2="323.15" y2="416.6" stroke="#333" stroke-width="0.8" />
<line x1="343.8" y1="418.4" x2="343.8" y2="415.4" stroke="#333" stroke-width="0.8" />
<text x="343.8" y="428.5" font-size="7.3" text-anchor="middle" font-weight="normal" fill="#222" stroke="#222" stroke-width="0.2" >2</text>
<line x1="364.45" y1="418.4" x2="364.45" y2="416.6" stroke="#333" stroke-width="0.8" />
<line x1="385.1" y1="418.4" x2="385.1" y2="415.4" stroke="#333" stroke-width="0.8" />
<text x="385.1" y="428.5" font-size="7.3" text-anchor="middle" font-weight="normal" fill="#222" stroke="#222" stroke-width="0.2" >4</text>
<line x1="405.75" y1="418.4" x2="405.75" y2="416.6" stroke="#333" stroke-width="0.8" />
<line x1="426.4" y1="418.4" x2="426.4" y2="415.4" stroke="#333" stroke-width="0.8" />
<text x="426.4" y="428.5" font-size="7.3" text-anchor="middle" font-weight="normal" fill="#222" stroke="#222" stroke-width="0.2" >6</text>
<line x1="447.05" y1="418.4" x2="447.05" y2="416.6" stroke="#333" stroke-width="0.8" />
<line x1="467.7" y1="418.4" x2="467.7" y2="415.4" stroke="#333" stroke-width="0.8" />
<text x="467.7" y="428.5" font-size="7.3" text-anchor="middle" font-weight="normal" fill="#222" stroke="#222" stroke-width="0.2" >8</text>
<line x1="488.35" y1="418.4" x2="488.35" y2="416.6" stroke="#333" stroke-width="0.8" />
<line x1="509" y1="418.4" x2="509" y2="415.4" stroke="#333" stroke-width="0.8" />
<text x="509" y="428.5" font-size="7.3" text-anchor="middle" font-weight="normal" fill="#222" stroke="#222" stroke-width="0.2" >10</text>
<line x1="529.65" y1="418.4" x2="529.65" y2="416.6" stroke="#333" stroke-width="0.8" />
<text x="375" y="438.2" font-size="9.4" text-anchor="start" font-weight="normal" fill="#222" stroke="#222" stroke-width="0.2" >Response (R<tspan font-size="6.1" dy="1.8">g</tspan><tspan dy="-1.8">/R</tspan><tspan font-size="6.1" dy="1.8">a</tspan><tspan dy="-1.8"> or R</tspan><tspan font-size="6.1" dy="1.8">a</tspan><tspan dy="-1.8">/R</tspan><tspan font-size="6.1" dy="1.8">g</tspan><tspan dy="-1.8">)</tspan></text>
<text x="290.6" y="229.4" font-size="12.3" text-anchor="start" font-weight="normal" fill="#222" stroke="#222" stroke-width="0.2" >(d)</text>
<rect x="42.4" y="450.1" width="480.2" height="39.8" fill="url(#gpink)"/>
<rect x="42.4" y="636.4" width="480.2" height="33.5" fill="url(#gblue)"/>
<text x="255.6" y="487.1" font-size="8.3" text-anchor="start" font-weight="normal" fill="#333" stroke="#333" stroke-width="0.2" >Response</text>
<text x="247.5" y="650.9" font-size="8.1" text-anchor="start" font-weight="normal" fill="#333" stroke="#333" stroke-width="0.2" >Baseline resistance</text>
<line x1="42.4" y1="450.1" x2="519.8" y2="450.1" stroke="#6a6a6a" stroke-width="1.5" />
<line x1="42.4" y1="683.3" x2="522.6" y2="683.3" stroke="#444" stroke-width="1.3" />
<line x1="42.4" y1="450.1" x2="42.4" y2="632.8" stroke="#9a9a9a" stroke-width="1.2" />
<line x1="42.4" y1="639.8" x2="42.4" y2="683.3" stroke="#9a9a9a" stroke-width="1.2" />
<line x1="38.6" y1="635.6" x2="46" y2="632.2" stroke="#888" stroke-width="0.8" />
<line x1="38.6" y1="639.4" x2="46" y2="636" stroke="#888" stroke-width="0.8" />
<line x1="522.6" y1="450.1" x2="522.6" y2="483" stroke="#f3a9b1" stroke-width="1.2" />
<line x1="522.6" y1="488" x2="522.6" y2="683.3" stroke="#f3a9b1" stroke-width="1.2" />
<line x1="520.3" y1="486" x2="525.6" y2="481.6" stroke="#e9808c" stroke-width="0.7" />
<line x1="520.3" y1="488.9" x2="525.6" y2="484.5" stroke="#e9808c" stroke-width="0.7" />
<line x1="42.4" y1="449.9" x2="45" y2="449.9" stroke="#888" stroke-width="0.8" />
<text x="38.7" y="452.7" font-size="8.7" text-anchor="end" font-weight="normal" fill="#555" stroke="#555" stroke-width="0.38">30</text>
<line x1="42.4" y1="467.23" x2="43.9" y2="467.23" stroke="#999" stroke-width="0.7" />
<line x1="42.4" y1="484.55" x2="45" y2="484.55" stroke="#888" stroke-width="0.8" />
<text x="38.7" y="487.35" font-size="8.7" text-anchor="end" font-weight="normal" fill="#555" stroke="#555" stroke-width="0.38">27</text>
<line x1="42.4" y1="501.88" x2="43.9" y2="501.88" stroke="#999" stroke-width="0.7" />
<line x1="42.4" y1="519.2" x2="45" y2="519.2" stroke="#888" stroke-width="0.8" />
<text x="38.7" y="522" font-size="8.7" text-anchor="end" font-weight="normal" fill="#555" stroke="#555" stroke-width="0.38">24</text>
<line x1="42.4" y1="536.53" x2="43.9" y2="536.53" stroke="#999" stroke-width="0.7" />
<line x1="42.4" y1="553.85" x2="45" y2="553.85" stroke="#888" stroke-width="0.8" />
<text x="38.7" y="556.65" font-size="8.7" text-anchor="end" font-weight="normal" fill="#555" stroke="#555" stroke-width="0.38">21</text>
<line x1="42.4" y1="571.18" x2="43.9" y2="571.18" stroke="#999" stroke-width="0.7" />
<line x1="42.4" y1="588.5" x2="45" y2="588.5" stroke="#888" stroke-width="0.8" />
<text x="38.7" y="591.3" font-size="8.7" text-anchor="end" font-weight="normal" fill="#555" stroke="#555" stroke-width="0.38">18</text>
<line x1="42.4" y1="605.83" x2="43.9" y2="605.83" stroke="#999" stroke-width="0.7" />
<line x1="42.4" y1="623.15" x2="45" y2="623.15" stroke="#888" stroke-width="0.8" />
<text x="38.7" y="625.95" font-size="8.7" text-anchor="end" font-weight="normal" fill="#555" stroke="#555" stroke-width="0.38">15</text>
<line x1="42.4" y1="650.85" x2="45" y2="650.85" stroke="#888" stroke-width="0.8" />
<text x="38.7" y="653.65" font-size="8.7" text-anchor="end" font-weight="normal" fill="#555" stroke="#555" stroke-width="0.38">12</text>
<line x1="42.4" y1="660.35" x2="43.9" y2="660.35" stroke="#999" stroke-width="0.7" />
<line x1="42.4" y1="641.35" x2="43.9" y2="641.35" stroke="#999" stroke-width="0.7" />
<line x1="42.4" y1="669.9" x2="45" y2="669.9" stroke="#888" stroke-width="0.8" />
<text x="38.7" y="672.7" font-size="8.7" text-anchor="end" font-weight="normal" fill="#555" stroke="#555" stroke-width="0.38">9</text>
<line x1="42.4" y1="679.4" x2="43.9" y2="679.4" stroke="#999" stroke-width="0.7" />
<text x="0" y="0" font-size="9.1" text-anchor="middle" font-weight="normal" fill="#555" stroke="#555" stroke-width="0.4" transform="translate(23.1,558) rotate(-90)">Resistance((M&#937;)</text>
<line x1="522.6" y1="479.1" x2="520.2" y2="479.1" stroke="#e9808c" stroke-width="0.8" />
<text x="526.6" y="481.9" font-size="8.3" text-anchor="start" font-weight="normal" fill="#e9808c" stroke="#e9808c" stroke-width="0.2" >9</text>
<line x1="522.6" y1="475.45" x2="521.2" y2="475.45" stroke="#e9808c" stroke-width="0.6" />
<line x1="522.6" y1="471.8" x2="520.2" y2="471.8" stroke="#e9808c" stroke-width="0.8" />
<text x="526.6" y="474.6" font-size="8.3" text-anchor="start" font-weight="normal" fill="#e9808c" stroke="#e9808c" stroke-width="0.2" >10</text>
<line x1="522.6" y1="468.15" x2="521.2" y2="468.15" stroke="#e9808c" stroke-width="0.6" />
<line x1="522.6" y1="464.5" x2="520.2" y2="464.5" stroke="#e9808c" stroke-width="0.8" />
<text x="526.6" y="467.3" font-size="8.3" text-anchor="start" font-weight="normal" fill="#e9808c" stroke="#e9808c" stroke-width="0.2" >11</text>
<line x1="522.6" y1="460.85" x2="521.2" y2="460.85" stroke="#e9808c" stroke-width="0.6" />
<line x1="522.6" y1="457.2" x2="520.2" y2="457.2" stroke="#e9808c" stroke-width="0.8" />
<text x="526.6" y="460" font-size="8.3" text-anchor="start" font-weight="normal" fill="#e9808c" stroke="#e9808c" stroke-width="0.2" >12</text>
<line x1="522.6" y1="453.55" x2="521.2" y2="453.55" stroke="#e9808c" stroke-width="0.6" />
<line x1="522.6" y1="449.9" x2="520.2" y2="449.9" stroke="#e9808c" stroke-width="0.8" />
<text x="526.6" y="452.7" font-size="8.3" text-anchor="start" font-weight="normal" fill="#e9808c" stroke="#e9808c" stroke-width="0.2" >13</text>
<line x1="522.6" y1="670.7" x2="520" y2="670.7" stroke="#e9808c" stroke-width="0.8" />
<text x="526" y="674.1" font-size="10.2" text-anchor="start" font-weight="normal" fill="#e9808c" stroke="#e9808c" stroke-width="0.2" >1</text>
<line x1="522.6" y1="658.45" x2="521.1" y2="658.45" stroke="#e9808c" stroke-width="0.7" />
<line x1="522.6" y1="646.2" x2="520" y2="646.2" stroke="#e9808c" stroke-width="0.8" />
<text x="526" y="649.6" font-size="10.2" text-anchor="start" font-weight="normal" fill="#e9808c" stroke="#e9808c" stroke-width="0.2" >2</text>
<line x1="522.6" y1="633.95" x2="521.1" y2="633.95" stroke="#e9808c" stroke-width="0.7" />
<line x1="522.6" y1="621.7" x2="520" y2="621.7" stroke="#e9808c" stroke-width="0.8" />
<text x="526" y="625.1" font-size="10.2" text-anchor="start" font-weight="normal" fill="#e9808c" stroke="#e9808c" stroke-width="0.2" >3</text>
<line x1="522.6" y1="609.45" x2="521.1" y2="609.45" stroke="#e9808c" stroke-width="0.7" />
<line x1="522.6" y1="597.2" x2="520" y2="597.2" stroke="#e9808c" stroke-width="0.8" />
<text x="526" y="600.6" font-size="10.2" text-anchor="start" font-weight="normal" fill="#e9808c" stroke="#e9808c" stroke-width="0.2" >4</text>
<line x1="522.6" y1="584.95" x2="521.1" y2="584.95" stroke="#e9808c" stroke-width="0.7" />
<line x1="522.6" y1="572.7" x2="520" y2="572.7" stroke="#e9808c" stroke-width="0.8" />
<text x="526" y="576.1" font-size="10.2" text-anchor="start" font-weight="normal" fill="#e9808c" stroke="#e9808c" stroke-width="0.2" >5</text>
<line x1="522.6" y1="560.45" x2="521.1" y2="560.45" stroke="#e9808c" stroke-width="0.7" />
<line x1="522.6" y1="548.2" x2="520" y2="548.2" stroke="#e9808c" stroke-width="0.8" />
<text x="526" y="551.6" font-size="10.2" text-anchor="start" font-weight="normal" fill="#e9808c" stroke="#e9808c" stroke-width="0.2" >6</text>
<line x1="522.6" y1="535.95" x2="521.1" y2="535.95" stroke="#e9808c" stroke-width="0.7" />
<line x1="522.6" y1="523.7" x2="520" y2="523.7" stroke="#e9808c" stroke-width="0.8" />
<text x="526" y="527.1" font-size="10.2" text-anchor="start" font-weight="normal" fill="#e9808c" stroke="#e9808c" stroke-width="0.2" >7</text>
<line x1="522.6" y1="511.45" x2="521.1" y2="511.45" stroke="#e9808c" stroke-width="0.7" />
<line x1="522.6" y1="499.2" x2="520" y2="499.2" stroke="#e9808c" stroke-width="0.8" />
<text x="526" y="502.6" font-size="10.2" text-anchor="start" font-weight="normal" fill="#e9808c" stroke="#e9808c" stroke-width="0.2" >8</text>
<text x="0" y="0" font-size="9.0" text-anchor="middle" font-weight="normal" fill="#e9808c" stroke="#e9808c" stroke-width="0.2" transform="translate(538.3,567) rotate(90)">Response</text>
<line x1="90" y1="683.3" x2="90" y2="680.7" stroke="#444" stroke-width="0.8" />
<line x1="90" y1="450.1" x2="90" y2="452.5" stroke="#444" stroke-width="0.8" />
<text x="90" y="695.2" font-size="8.6" text-anchor="middle" font-weight="normal" fill="#333" stroke="#333" stroke-width="0.2" >1</text>
<line x1="138.15" y1="683.3" x2="138.15" y2="681.7" stroke="#444" stroke-width="0.7" />
<line x1="138.15" y1="450.1" x2="138.15" y2="451.6" stroke="#444" stroke-width="0.7" />
<line x1="186.3" y1="683.3" x2="186.3" y2="680.7" stroke="#444" stroke-width="0.8" />
<line x1="186.3" y1="450.1" x2="186.3" y2="452.5" stroke="#444" stroke-width="0.8" />
<text x="186.3" y="695.2" font-size="8.6" text-anchor="middle" font-weight="normal" fill="#333" stroke="#333" stroke-width="0.2" >7</text>
<line x1="234.45" y1="683.3" x2="234.45" y2="681.7" stroke="#444" stroke-width="0.7" />
<line x1="234.45" y1="450.1" x2="234.45" y2="451.6" stroke="#444" stroke-width="0.7" />
<line x1="282.6" y1="683.3" x2="282.6" y2="680.7" stroke="#444" stroke-width="0.8" />
<line x1="282.6" y1="450.1" x2="282.6" y2="452.5" stroke="#444" stroke-width="0.8" />
<text x="282.6" y="695.2" font-size="8.6" text-anchor="middle" font-weight="normal" fill="#333" stroke="#333" stroke-width="0.2" >30</text>
<line x1="330.75" y1="683.3" x2="330.75" y2="681.7" stroke="#444" stroke-width="0.7" />
<line x1="330.75" y1="450.1" x2="330.75" y2="451.6" stroke="#444" stroke-width="0.7" />
<line x1="378.9" y1="683.3" x2="378.9" y2="680.7" stroke="#444" stroke-width="0.8" />
<line x1="378.9" y1="450.1" x2="378.9" y2="452.5" stroke="#444" stroke-width="0.8" />
<text x="378.9" y="695.2" font-size="8.6" text-anchor="middle" font-weight="normal" fill="#333" stroke="#333" stroke-width="0.2" >60</text>
<line x1="427.05" y1="683.3" x2="427.05" y2="681.7" stroke="#444" stroke-width="0.7" />
<line x1="427.05" y1="450.1" x2="427.05" y2="451.6" stroke="#444" stroke-width="0.7" />
<line x1="475.2" y1="683.3" x2="475.2" y2="680.7" stroke="#444" stroke-width="0.8" />
<line x1="475.2" y1="450.1" x2="475.2" y2="452.5" stroke="#444" stroke-width="0.8" />
<text x="475.2" y="695.2" font-size="8.6" text-anchor="middle" font-weight="normal" fill="#333" stroke="#333" stroke-width="0.2" >90</text>
<text x="283.4" y="706.2" font-size="8.6" text-anchor="middle" font-weight="bold" fill="#111" stroke="#111" stroke-width="0.2" >Time (Day)</text>
<text x="6.8" y="447" font-size="12.2" text-anchor="start" font-weight="normal" fill="#222" stroke="#222" stroke-width="0.45">(e)</text>
<path d="M90,453.5 L186.3,470.7 L282.6,474.8 L378.9,477 L475.2,479" fill="none" stroke="#f19ca6" stroke-width="1.1" stroke-linejoin="round" stroke-linecap="round" stroke-dasharray="3.8 3.6"/>
<line x1="475.2" y1="479" x2="521.6" y2="479" stroke="#f29aa4" stroke-width="0.8" />
<path d="M521.8,479 l-4,-1.4 l0,2.8 z" fill="#ef8f9a"/>
<circle cx="90" cy="453.5" r="1.6" fill="#f6b3bb" stroke="#ec8492" stroke-width="0.7"/>
<circle cx="186.3" cy="470.7" r="1.6" fill="#f6b3bb" stroke="#ec8492" stroke-width="0.7"/>
<circle cx="282.6" cy="474.8" r="1.6" fill="#f6b3bb" stroke="#ec8492" stroke-width="0.7"/>
<circle cx="378.9" cy="477" r="1.6" fill="#f6b3bb" stroke="#ec8492" stroke-width="0.7"/>
<circle cx="475.2" cy="479" r="1.6" fill="#f6b3bb" stroke="#ec8492" stroke-width="0.7"/>
<path d="M90,673.6 L186.3,662.5 L282.6,666.5 L378.9,652.7 L475.2,642.9" fill="none" stroke="#7f7f7f" stroke-width="1.1" stroke-linejoin="round" stroke-linecap="round" stroke-dasharray="3.8 3.6"/>
<line x1="43.4" y1="669.6" x2="90" y2="669.6" stroke="#b0b0b0" stroke-width="0.8" />
<path d="M43.9,669.6 l3.5,-1.2 l0,2.4 z" fill="#999"/>
<circle cx="90" cy="673.6" r="1.8" fill="#727272"/>
<circle cx="186.3" cy="662.5" r="1.8" fill="#727272"/>
<circle cx="282.6" cy="666.5" r="1.8" fill="#727272"/>
<circle cx="378.9" cy="652.7" r="1.8" fill="#727272"/>
<circle cx="475.2" cy="642.9" r="1.8" fill="#727272"/>
<rect x="58.4" y="519.9" width="78.1" height="63.1" fill="#fff" stroke="#9a9a9a" stroke-width="0.8"/>
<line x1="58.4" y1="525" x2="59.4" y2="525" stroke="#777" stroke-width="0.4" />
<text x="56.9" y="526.5" font-size="4.3" text-anchor="end" font-weight="normal" fill="#111" stroke="#111" stroke-width="0.1" >12</text>
<line x1="58.4" y1="535.4" x2="59.4" y2="535.4" stroke="#777" stroke-width="0.4" />
<text x="56.9" y="536.9" font-size="4.3" text-anchor="end" font-weight="normal" fill="#111" stroke="#111" stroke-width="0.1" >10</text>
<line x1="58.4" y1="545.6" x2="59.4" y2="545.6" stroke="#777" stroke-width="0.4" />
<text x="56.9" y="547.1" font-size="4.3" text-anchor="end" font-weight="normal" fill="#111" stroke="#111" stroke-width="0.1" >8</text>
<line x1="58.4" y1="556" x2="59.4" y2="556" stroke="#777" stroke-width="0.4" />
<text x="56.9" y="557.5" font-size="4.3" text-anchor="end" font-weight="normal" fill="#111" stroke="#111" stroke-width="0.1" >6</text>
<line x1="58.4" y1="566" x2="59.4" y2="566" stroke="#777" stroke-width="0.4" />
<text x="56.9" y="567.5" font-size="4.3" text-anchor="end" font-weight="normal" fill="#111" stroke="#111" stroke-width="0.1" >4</text>
<line x1="58.4" y1="576.5" x2="59.4" y2="576.5" stroke="#777" stroke-width="0.4" />
<text x="56.9" y="578" font-size="4.3" text-anchor="end" font-weight="normal" fill="#111" stroke="#111" stroke-width="0.1" >2</text>
<line x1="69.2" y1="583" x2="69.2" y2="582" stroke="#777" stroke-width="0.4" />
<text x="69.2" y="588.2" font-size="4.3" text-anchor="middle" font-weight="normal" fill="#111" stroke="#111" stroke-width="0.1" >300</text>
<line x1="79.72" y1="583" x2="79.72" y2="582" stroke="#777" stroke-width="0.4" />
<text x="79.72" y="588.2" font-size="4.3" text-anchor="middle" font-weight="normal" fill="#111" stroke="#111" stroke-width="0.1" >600</text>
<line x1="90.24" y1="583" x2="90.24" y2="582" stroke="#777" stroke-width="0.4" />
<text x="90.24" y="588.2" font-size="4.3" text-anchor="middle" font-weight="normal" fill="#111" stroke="#111" stroke-width="0.1" >900</text>
<line x1="100.76" y1="583" x2="100.76" y2="582" stroke="#777" stroke-width="0.4" />
<text x="100.76" y="588.2" font-size="4.3" text-anchor="middle" font-weight="normal" fill="#111" stroke="#111" stroke-width="0.1" >1200</text>
<line x1="111.28" y1="583" x2="111.28" y2="582" stroke="#777" stroke-width="0.4" />
<text x="111.28" y="588.2" font-size="4.3" text-anchor="middle" font-weight="normal" fill="#111" stroke="#111" stroke-width="0.1" >1500</text>
<line x1="121.8" y1="583" x2="121.8" y2="582" stroke="#777" stroke-width="0.4" />
<text x="121.8" y="588.2" font-size="4.3" text-anchor="middle" font-weight="normal" fill="#111" stroke="#111" stroke-width="0.1" >1800</text>
<line x1="132.32" y1="583" x2="132.32" y2="582" stroke="#777" stroke-width="0.4" />
<text x="132.32" y="588.2" font-size="4.3" text-anchor="middle" font-weight="normal" fill="#111" stroke="#111" stroke-width="0.1" >2100</text>
<text x="97.2" y="596.1" font-size="5.5" text-anchor="middle" font-weight="normal" fill="#111" stroke="#111" stroke-width="0.1" >Time (s)</text>
<text x="0" y="0" font-size="5.7" text-anchor="middle" font-weight="normal" fill="#111" stroke="#111" stroke-width="0.1" transform="translate(50.5,552) rotate(-90)">Response</text>
<text x="119.1" y="532.2" font-size="4.2" text-anchor="start" font-weight="normal" fill="#222" stroke="#222" stroke-width="0.1" >1 Day</text>
<path d="M58.4,579.9 L79,581.5 C79.12,580.2 79.32,578.35 79.7,573.7 C80.08,569.05 80.78,559 81.3,553.6 C81.82,548.2 82.17,544.77 82.8,541.3 C83.43,537.83 84.2,534.87 85.1,532.8 C86,530.73 87.03,530.02 88.2,528.9 C89.37,527.78 90.8,526.92 92.1,526.1 C93.4,525.28 94.72,524.62 96,524 C97.28,523.38 99.17,522.67 99.8,522.4 C100,523.75 100.62,527.35 101,530.5 C101.38,533.65 101.65,537.7 102.1,541.3 C102.55,544.9 103.05,548.75 103.7,552.1 C104.35,555.45 105.1,558.83 106,561.4 C106.9,563.97 107.82,565.7 109.1,567.5 C110.38,569.3 111.9,570.78 113.7,572.2 C115.5,573.62 117.58,575.03 119.9,576 C122.22,576.97 124.87,577.48 127.6,578 C130.33,578.52 134.85,578.92 136.3,579.1" fill="none" stroke="#666" stroke-width="0.6" stroke-linejoin="round"/>
<rect x="150.3" y="520.4" width="81.2" height="65.4" fill="#fff" stroke="#9a9a9a" stroke-width="0.8"/>
<line x1="150.3" y1="525.5" x2="151.3" y2="525.5" stroke="#777" stroke-width="0.4" />
<text x="148.8" y="527" font-size="4.3" text-anchor="end" font-weight="normal" fill="#111" stroke="#111" stroke-width="0.1" >12</text>
<line x1="150.3" y1="535.9" x2="151.3" y2="535.9" stroke="#777" stroke-width="0.4" />
<text x="148.8" y="537.4" font-size="4.3" text-anchor="end" font-weight="normal" fill="#111" stroke="#111" stroke-width="0.1" >10</text>
<line x1="150.3" y1="546.7" x2="151.3" y2="546.7" stroke="#777" stroke-width="0.4" />
<text x="148.8" y="548.2" font-size="4.3" text-anchor="end" font-weight="normal" fill="#111" stroke="#111" stroke-width="0.1" >8</text>
<line x1="150.3" y1="557" x2="151.3" y2="557" stroke="#777" stroke-width="0.4" />
<text x="148.8" y="558.5" font-size="4.3" text-anchor="end" font-weight="normal" fill="#111" stroke="#111" stroke-width="0.1" >6</text>
<line x1="150.3" y1="567.5" x2="151.3" y2="567.5" stroke="#777" stroke-width="0.4" />
<text x="148.8" y="569" font-size="4.3" text-anchor="end" font-weight="normal" fill="#111" stroke="#111" stroke-width="0.1" >4</text>
<line x1="150.3" y1="578" x2="151.3" y2="578" stroke="#777" stroke-width="0.4" />
<text x="148.8" y="579.5" font-size="4.3" text-anchor="end" font-weight="normal" fill="#111" stroke="#111" stroke-width="0.1" >2</text>
<line x1="161.1" y1="585.8" x2="161.1" y2="584.8" stroke="#777" stroke-width="0.4" />
<text x="161.1" y="591" font-size="4.3" text-anchor="middle" font-weight="normal" fill="#111" stroke="#111" stroke-width="0.1" >300</text>
<line x1="172.18" y1="585.8" x2="172.18" y2="584.8" stroke="#777" stroke-width="0.4" />
<text x="172.18" y="591" font-size="4.3" text-anchor="middle" font-weight="normal" fill="#111" stroke="#111" stroke-width="0.1" >600</text>
<line x1="183.26" y1="585.8" x2="183.26" y2="584.8" stroke="#777" stroke-width="0.4" />
<text x="183.26" y="591" font-size="4.3" text-anchor="middle" font-weight="normal" fill="#111" stroke="#111" stroke-width="0.1" >900</text>
<line x1="194.34" y1="585.8" x2="194.34" y2="584.8" stroke="#777" stroke-width="0.4" />
<text x="194.34" y="591" font-size="4.3" text-anchor="middle" font-weight="normal" fill="#111" stroke="#111" stroke-width="0.1" >1200</text>
<line x1="205.42" y1="585.8" x2="205.42" y2="584.8" stroke="#777" stroke-width="0.4" />
<text x="205.42" y="591" font-size="4.3" text-anchor="middle" font-weight="normal" fill="#111" stroke="#111" stroke-width="0.1" >1500</text>
<line x1="216.5" y1="585.8" x2="216.5" y2="584.8" stroke="#777" stroke-width="0.4" />
<text x="216.5" y="591" font-size="4.3" text-anchor="middle" font-weight="normal" fill="#111" stroke="#111" stroke-width="0.1" >1800</text>
<line x1="227.58" y1="585.8" x2="227.58" y2="584.8" stroke="#777" stroke-width="0.4" />
<text x="227.58" y="591" font-size="4.3" text-anchor="middle" font-weight="normal" fill="#111" stroke="#111" stroke-width="0.1" >2100</text>
<text x="191" y="598.9" font-size="5.5" text-anchor="middle" font-weight="normal" fill="#111" stroke="#111" stroke-width="0.1" >Time (s)</text>
<text x="0" y="0" font-size="5.7" text-anchor="middle" font-weight="normal" fill="#111" stroke="#111" stroke-width="0.1" transform="translate(143.3,553) rotate(-90)">Response</text>
<text x="209.8" y="532.2" font-size="4.2" text-anchor="start" font-weight="normal" fill="#222" stroke="#222" stroke-width="0.1" >7 Days</text>
<path d="M150.3,582.2 L166.5,583.3 C166.63,582.22 166.9,581.23 167.3,576.8 C167.7,572.37 168.38,561.58 168.9,556.7 C169.42,551.82 169.77,549.95 170.4,547.5 C171.03,545.05 171.67,543.55 172.7,542 C173.73,540.45 175.18,539.22 176.6,538.2 C178.02,537.18 179.65,536.55 181.2,535.9 C182.75,535.25 184.68,534.57 185.9,534.3 C187.12,534.03 188.07,534.3 188.5,534.3 C188.7,534.95 189.28,535.75 189.7,538.2 C190.12,540.65 190.48,545.4 191,549 C191.52,552.6 191.98,556.45 192.8,559.8 C193.62,563.15 194.62,566.65 195.9,569.1 C197.18,571.55 198.43,572.83 200.5,574.5 C202.57,576.17 205.45,577.98 208.3,579.1 C211.15,580.22 213.77,580.68 217.6,581.2 C221.43,581.72 229.02,582.03 231.3,582.2" fill="none" stroke="#666" stroke-width="0.6" stroke-linejoin="round"/>
<rect x="248.1" y="520.4" width="82.5" height="67.1" fill="#fff" stroke="#9a9a9a" stroke-width="0.8"/>
<line x1="248.1" y1="526.2" x2="249.1" y2="526.2" stroke="#777" stroke-width="0.4" />
<text x="246.6" y="527.7" font-size="4.3" text-anchor="end" font-weight="normal" fill="#111" stroke="#111" stroke-width="0.1" >12</text>
<line x1="248.1" y1="536.6" x2="249.1" y2="536.6" stroke="#777" stroke-width="0.4" />
<text x="246.6" y="538.1" font-size="4.3" text-anchor="end" font-weight="normal" fill="#111" stroke="#111" stroke-width="0.1" >10</text>
<line x1="248.1" y1="547.4" x2="249.1" y2="547.4" stroke="#777" stroke-width="0.4" />
<text x="246.6" y="548.9" font-size="4.3" text-anchor="end" font-weight="normal" fill="#111" stroke="#111" stroke-width="0.1" >8</text>
<line x1="248.1" y1="558" x2="249.1" y2="558" stroke="#777" stroke-width="0.4" />
<text x="246.6" y="559.5" font-size="4.3" text-anchor="end" font-weight="normal" fill="#111" stroke="#111" stroke-width="0.1" >6</text>
<line x1="248.1" y1="568.8" x2="249.1" y2="568.8" stroke="#777" stroke-width="0.4" />
<text x="246.6" y="570.3" font-size="4.3" text-anchor="end" font-weight="normal" fill="#111" stroke="#111" stroke-width="0.1" >4</text>
<line x1="248.1" y1="579.2" x2="249.1" y2="579.2" stroke="#777" stroke-width="0.4" />
<text x="246.6" y="580.7" font-size="4.3" text-anchor="end" font-weight="normal" fill="#111" stroke="#111" stroke-width="0.1" >2</text>
<line x1="252" y1="587.5" x2="252" y2="586.5" stroke="#777" stroke-width="0.4" />
<text x="252" y="592.7" font-size="4.3" text-anchor="middle" font-weight="normal" fill="#111" stroke="#111" stroke-width="0.1" >300</text>
<line x1="263" y1="587.5" x2="263" y2="586.5" stroke="#777" stroke-width="0.4" />
<text x="263" y="592.7" font-size="4.3" text-anchor="middle" font-weight="normal" fill="#111" stroke="#111" stroke-width="0.1" >600</text>
<line x1="274" y1="587.5" x2="274" y2="586.5" stroke="#777" stroke-width="0.4" />
<text x="274" y="592.7" font-size="4.3" text-anchor="middle" font-weight="normal" fill="#111" stroke="#111" stroke-width="0.1" >900</text>
<line x1="285" y1="587.5" x2="285" y2="586.5" stroke="#777" stroke-width="0.4" />
<text x="285" y="592.7" font-size="4.3" text-anchor="middle" font-weight="normal" fill="#111" stroke="#111" stroke-width="0.1" >1200</text>
<line x1="296" y1="587.5" x2="296" y2="586.5" stroke="#777" stroke-width="0.4" />
<text x="296" y="592.7" font-size="4.3" text-anchor="middle" font-weight="normal" fill="#111" stroke="#111" stroke-width="0.1" >1500</text>
<line x1="307" y1="587.5" x2="307" y2="586.5" stroke="#777" stroke-width="0.4" />
<text x="307" y="592.7" font-size="4.3" text-anchor="middle" font-weight="normal" fill="#111" stroke="#111" stroke-width="0.1" >1800</text>
<line x1="318" y1="587.5" x2="318" y2="586.5" stroke="#777" stroke-width="0.4" />
<text x="318" y="592.7" font-size="4.3" text-anchor="middle" font-weight="normal" fill="#111" stroke="#111" stroke-width="0.1" >2100</text>
<line x1="329" y1="587.5" x2="329" y2="586.5" stroke="#777" stroke-width="0.4" />
<text x="329" y="592.7" font-size="4.3" text-anchor="middle" font-weight="normal" fill="#111" stroke="#111" stroke-width="0.1" >2400</text>
<text x="289.3" y="600.6" font-size="5.5" text-anchor="middle" font-weight="normal" fill="#111" stroke="#111" stroke-width="0.1" >Time (s)</text>
<text x="0" y="0" font-size="5.7" text-anchor="middle" font-weight="normal" fill="#111" stroke="#111" stroke-width="0.1" transform="translate(240,554) rotate(-90)">Response</text>
<text x="311.8" y="532.2" font-size="4.2" text-anchor="start" font-weight="normal" fill="#222" stroke="#222" stroke-width="0.1" >30 Days</text>
<path d="M248.1,584.2 L265.9,585.3 C266.02,583.88 266.22,580.78 266.6,576.8 C266.98,572.82 267.68,565.52 268.2,561.4 C268.72,557.28 269.07,554.68 269.7,552.1 C270.33,549.52 270.97,547.7 272,545.9 C273.03,544.1 274.48,542.53 275.9,541.3 C277.32,540.07 278.95,539.28 280.5,538.5 C282.05,537.72 284.03,537.02 285.2,536.6 C286.37,536.18 287.12,536.1 287.5,536 C287.68,536.62 288.22,537.28 288.6,539.7 C288.98,542.12 289.33,546.88 289.8,550.5 C290.27,554.12 290.62,558.05 291.4,561.4 C292.18,564.75 293.22,568.03 294.5,570.6 C295.78,573.17 297.05,575.12 299.1,576.8 C301.15,578.48 303.97,579.72 306.8,580.7 C309.63,581.68 312.17,582.18 316.1,582.7 C320.03,583.22 328.02,583.62 330.4,583.8" fill="none" stroke="#666" stroke-width="0.6" stroke-linejoin="round"/>
<rect x="342.3" y="520.4" width="80.3" height="65.4" fill="#fff" stroke="#9a9a9a" stroke-width="0.8"/>
<line x1="342.3" y1="526" x2="343.3" y2="526" stroke="#777" stroke-width="0.4" />
<text x="340.8" y="527.5" font-size="4.3" text-anchor="end" font-weight="normal" fill="#111" stroke="#111" stroke-width="0.1" >12</text>
<line x1="342.3" y1="536.4" x2="343.3" y2="536.4" stroke="#777" stroke-width="0.4" />
<text x="340.8" y="537.9" font-size="4.3" text-anchor="end" font-weight="normal" fill="#111" stroke="#111" stroke-width="0.1" >10</text>
<line x1="342.3" y1="547" x2="343.3" y2="547" stroke="#777" stroke-width="0.4" />
<text x="340.8" y="548.5" font-size="4.3" text-anchor="end" font-weight="normal" fill="#111" stroke="#111" stroke-width="0.1" >8</text>
<line x1="342.3" y1="558" x2="343.3" y2="558" stroke="#777" stroke-width="0.4" />
<text x="340.8" y="559.5" font-size="4.3" text-anchor="end" font-weight="normal" fill="#111" stroke="#111" stroke-width="0.1" >6</text>
<line x1="342.3" y1="568" x2="343.3" y2="568" stroke="#777" stroke-width="0.4" />
<text x="340.8" y="569.5" font-size="4.3" text-anchor="end" font-weight="normal" fill="#111" stroke="#111" stroke-width="0.1" >4</text>
<line x1="342.3" y1="578.6" x2="343.3" y2="578.6" stroke="#777" stroke-width="0.4" />
<text x="340.8" y="580.1" font-size="4.3" text-anchor="end" font-weight="normal" fill="#111" stroke="#111" stroke-width="0.1" >2</text>
<line x1="345.6" y1="585.8" x2="345.6" y2="584.8" stroke="#777" stroke-width="0.4" />
<text x="345.6" y="591" font-size="4.3" text-anchor="middle" font-weight="normal" fill="#111" stroke="#111" stroke-width="0.1" >300</text>
<line x1="356.5" y1="585.8" x2="356.5" y2="584.8" stroke="#777" stroke-width="0.4" />
<text x="356.5" y="591" font-size="4.3" text-anchor="middle" font-weight="normal" fill="#111" stroke="#111" stroke-width="0.1" >600</text>
<line x1="367.4" y1="585.8" x2="367.4" y2="584.8" stroke="#777" stroke-width="0.4" />
<text x="367.4" y="591" font-size="4.3" text-anchor="middle" font-weight="normal" fill="#111" stroke="#111" stroke-width="0.1" >900</text>
<line x1="378.3" y1="585.8" x2="378.3" y2="584.8" stroke="#777" stroke-width="0.4" />
<text x="378.3" y="591" font-size="4.3" text-anchor="middle" font-weight="normal" fill="#111" stroke="#111" stroke-width="0.1" >1200</text>
<line x1="389.2" y1="585.8" x2="389.2" y2="584.8" stroke="#777" stroke-width="0.4" />
<text x="389.2" y="591" font-size="4.3" text-anchor="middle" font-weight="normal" fill="#111" stroke="#111" stroke-width="0.1" >1500</text>
<line x1="400.1" y1="585.8" x2="400.1" y2="584.8" stroke="#777" stroke-width="0.4" />
<text x="400.1" y="591" font-size="4.3" text-anchor="middle" font-weight="normal" fill="#111" stroke="#111" stroke-width="0.1" >1800</text>
<line x1="411" y1="585.8" x2="411" y2="584.8" stroke="#777" stroke-width="0.4" />
<text x="411" y="591" font-size="4.3" text-anchor="middle" font-weight="normal" fill="#111" stroke="#111" stroke-width="0.1" >2100</text>
<line x1="421.9" y1="585.8" x2="421.9" y2="584.8" stroke="#777" stroke-width="0.4" />
<text x="421.9" y="591" font-size="4.3" text-anchor="middle" font-weight="normal" fill="#111" stroke="#111" stroke-width="0.1" >2400</text>
<text x="382.5" y="598.9" font-size="5.5" text-anchor="middle" font-weight="normal" fill="#111" stroke="#111" stroke-width="0.1" >Time (s)</text>
<text x="0" y="0" font-size="5.7" text-anchor="middle" font-weight="normal" fill="#111" stroke="#111" stroke-width="0.1" transform="translate(334.3,554.5) rotate(-90)">Response</text>
<text x="401" y="532.2" font-size="4.2" text-anchor="start" font-weight="normal" fill="#222" stroke="#222" stroke-width="0.1" >60 Days</text>
<path d="M342.3,582.2 L355,583 C355.08,581.97 355.17,580.4 355.5,576.8 C355.83,573.2 356.43,565.13 357,561.4 C357.57,557.67 358.13,556.33 358.9,554.4 C359.67,552.47 360.5,551.08 361.6,549.8 C362.7,548.52 364.08,547.55 365.5,546.7 C366.92,545.85 368.55,545.27 370.1,544.7 C371.65,544.13 373.68,543.57 374.8,543.3 C375.92,543.03 376.47,543.13 376.8,543.1 C376.98,544.08 377.47,546.47 377.9,549 C378.33,551.53 378.77,555.47 379.4,558.3 C380.03,561.13 380.67,563.55 381.7,566 C382.73,568.45 384.05,571.07 385.6,573 C387.15,574.93 388.55,576.32 391,577.6 C393.45,578.88 396.95,579.98 400.3,580.7 C403.65,581.42 407.42,581.52 411.1,581.9 C414.78,582.28 420.52,582.82 422.4,583" fill="none" stroke="#666" stroke-width="0.6" stroke-linejoin="round"/>
<rect x="436.3" y="520.4" width="81.7" height="66.5" fill="#fff" stroke="#9a9a9a" stroke-width="0.8"/>
<line x1="436.3" y1="526.4" x2="437.3" y2="526.4" stroke="#777" stroke-width="0.4" />
<text x="434.8" y="527.9" font-size="4.3" text-anchor="end" font-weight="normal" fill="#111" stroke="#111" stroke-width="0.1" >12</text>
<line x1="436.3" y1="536.4" x2="437.3" y2="536.4" stroke="#777" stroke-width="0.4" />
<text x="434.8" y="537.9" font-size="4.3" text-anchor="end" font-weight="normal" fill="#111" stroke="#111" stroke-width="0.1" >10</text>
<line x1="436.3" y1="547.6" x2="437.3" y2="547.6" stroke="#777" stroke-width="0.4" />
<text x="434.8" y="549.1" font-size="4.3" text-anchor="end" font-weight="normal" fill="#111" stroke="#111" stroke-width="0.1" >8</text>
<line x1="436.3" y1="558.4" x2="437.3" y2="558.4" stroke="#777" stroke-width="0.4" />
<text x="434.8" y="559.9" font-size="4.3" text-anchor="end" font-weight="normal" fill="#111" stroke="#111" stroke-width="0.1" >6</text>
<line x1="436.3" y1="569" x2="437.3" y2="569" stroke="#777" stroke-width="0.4" />
<text x="434.8" y="570.5" font-size="4.3" text-anchor="end" font-weight="normal" fill="#111" stroke="#111" stroke-width="0.1" >4</text>
<line x1="436.3" y1="579.6" x2="437.3" y2="579.6" stroke="#777" stroke-width="0.4" />
<text x="434.8" y="581.1" font-size="4.3" text-anchor="end" font-weight="normal" fill="#111" stroke="#111" stroke-width="0.1" >2</text>
<line x1="440.8" y1="586.9" x2="440.8" y2="585.9" stroke="#777" stroke-width="0.4" />
<text x="440.8" y="592.1" font-size="4.3" text-anchor="middle" font-weight="normal" fill="#111" stroke="#111" stroke-width="0.1" >300</text>
<line x1="453.5" y1="586.9" x2="453.5" y2="585.9" stroke="#777" stroke-width="0.4" />
<text x="453.5" y="592.1" font-size="4.3" text-anchor="middle" font-weight="normal" fill="#111" stroke="#111" stroke-width="0.1" >600</text>
<line x1="466.2" y1="586.9" x2="466.2" y2="585.9" stroke="#777" stroke-width="0.4" />
<text x="466.2" y="592.1" font-size="4.3" text-anchor="middle" font-weight="normal" fill="#111" stroke="#111" stroke-width="0.1" >900</text>
<line x1="478.9" y1="586.9" x2="478.9" y2="585.9" stroke="#777" stroke-width="0.4" />
<text x="478.9" y="592.1" font-size="4.3" text-anchor="middle" font-weight="normal" fill="#111" stroke="#111" stroke-width="0.1" >1200</text>
<line x1="491.6" y1="586.9" x2="491.6" y2="585.9" stroke="#777" stroke-width="0.4" />
<text x="491.6" y="592.1" font-size="4.3" text-anchor="middle" font-weight="normal" fill="#111" stroke="#111" stroke-width="0.1" >1500</text>
<line x1="504.3" y1="586.9" x2="504.3" y2="585.9" stroke="#777" stroke-width="0.4" />
<text x="504.3" y="592.1" font-size="4.3" text-anchor="middle" font-weight="normal" fill="#111" stroke="#111" stroke-width="0.1" >1800</text>
<line x1="517" y1="586.9" x2="517" y2="585.9" stroke="#777" stroke-width="0.4" />
<text x="517" y="592.1" font-size="4.3" text-anchor="middle" font-weight="normal" fill="#111" stroke="#111" stroke-width="0.1" >2100</text>
<text x="477" y="600" font-size="5.5" text-anchor="middle" font-weight="normal" fill="#111" stroke="#111" stroke-width="0.1" >Time (s)</text>
<text x="0" y="0" font-size="5.7" text-anchor="middle" font-weight="normal" fill="#111" stroke="#111" stroke-width="0.1" transform="translate(428.3,555) rotate(-90)">Response</text>
<text x="495.8" y="532.2" font-size="4.2" text-anchor="start" font-weight="normal" fill="#222" stroke="#222" stroke-width="0.1" >90 Days</text>
<path d="M436.3,584.2 L452.9,584.6 C452.97,583.82 452.97,583.25 453.3,579.9 C453.63,576.55 454.38,568.62 454.9,564.5 C455.42,560.38 455.77,557.53 456.4,555.2 C457.03,552.87 457.67,551.78 458.7,550.5 C459.73,549.22 461.18,548.32 462.6,547.5 C464.02,546.68 465.53,546.12 467.2,545.6 C468.87,545.08 470.8,544.78 472.6,544.4 C474.4,544.02 477.1,543.48 478,543.3 C478.18,544 478.7,545.52 479.1,547.5 C479.5,549.48 479.8,552.37 480.4,555.2 C481,558.03 481.68,561.53 482.7,564.5 C483.72,567.47 484.83,570.68 486.5,573 C488.17,575.32 490.37,577.03 492.7,578.4 C495.03,579.77 497.67,580.48 500.5,581.2 C503.33,581.92 506.82,582.35 509.7,582.7 C512.58,583.05 516.45,583.2 517.8,583.3" fill="none" stroke="#666" stroke-width="0.6" stroke-linejoin="round"/>
</svg></body></html>
